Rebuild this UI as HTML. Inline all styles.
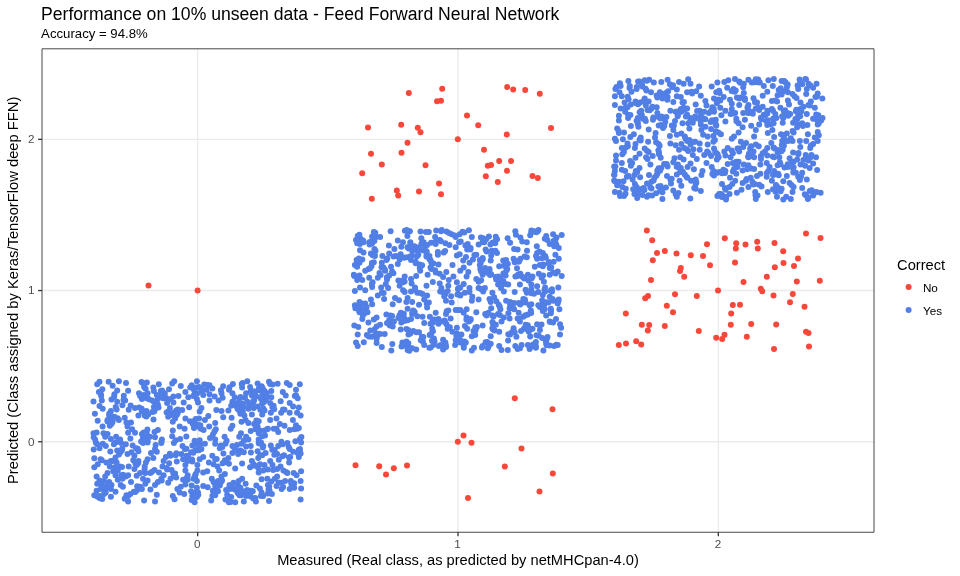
<!DOCTYPE html>
<html lang="en"><head><meta charset="utf-8"><title>Performance on 10% unseen data - Feed Forward Neural Network</title>
<style>
html,body{margin:0;padding:0;background:#fff;}
body{width:960px;height:576px;overflow:hidden;}
svg{display:block;will-change:transform;font-family:"Liberation Sans",Arial,Helvetica,sans-serif;}
</style></head><body>
<svg width="960" height="576" viewBox="0 0 960 576">
<rect width="960" height="576" fill="#fff"/>
<g stroke="#ebebeb" stroke-width="1.42" fill="none">
<line x1="42.00" x2="874.00" y1="441.75" y2="441.75"/>
<line x1="197.65" x2="197.65" y1="48.80" y2="532.25"/>
<line x1="42.00" x2="874.00" y1="290.55" y2="290.55"/>
<line x1="458.00" x2="458.00" y1="48.80" y2="532.25"/>
<line x1="42.00" x2="874.00" y1="139.35" y2="139.35"/>
<line x1="718.35" x2="718.35" y1="48.80" y2="532.25"/>
</g>
<g class="pts-yes" fill="#517fe6"><circle cx="99.5" cy="381.7" r="3.0"/><circle cx="97.2" cy="384.2" r="3.0"/><circle cx="108.6" cy="381.7" r="3.0"/><circle cx="112.6" cy="385.7" r="3.0"/><circle cx="118.9" cy="381.3" r="3.0"/><circle cx="126.0" cy="382.9" r="3.0"/><circle cx="141.5" cy="382.0" r="3.0"/><circle cx="146.8" cy="382.5" r="3.0"/><circle cx="144.1" cy="386.9" r="3.0"/><circle cx="158.8" cy="384.2" r="3.0"/><circle cx="153.3" cy="387.5" r="3.0"/><circle cx="174.2" cy="381.3" r="3.0"/><circle cx="172.2" cy="383.4" r="3.0"/><circle cx="180.8" cy="386.0" r="3.0"/><circle cx="196.9" cy="381.3" r="3.0"/><circle cx="191.7" cy="385.2" r="3.0"/><circle cx="196.3" cy="387.5" r="3.0"/><circle cx="102.3" cy="389.2" r="3.0"/><circle cx="98.9" cy="392.0" r="3.0"/><circle cx="101.2" cy="396.1" r="3.0"/><circle cx="117.2" cy="390.6" r="3.0"/><circle cx="114.4" cy="394.3" r="3.0"/><circle cx="111.5" cy="399.5" r="3.0"/><circle cx="128.1" cy="390.7" r="3.0"/><circle cx="123.8" cy="395.7" r="3.0"/><circle cx="125.2" cy="400.6" r="3.0"/><circle cx="139.0" cy="393.2" r="3.0"/><circle cx="143.6" cy="394.9" r="3.0"/><circle cx="147.6" cy="393.2" r="3.0"/><circle cx="141.9" cy="398.9" r="3.0"/><circle cx="147.6" cy="398.3" r="3.0"/><circle cx="153.9" cy="390.9" r="3.0"/><circle cx="156.8" cy="394.9" r="3.0"/><circle cx="160.8" cy="390.9" r="3.0"/><circle cx="169.0" cy="389.2" r="3.0"/><circle cx="164.8" cy="393.2" r="3.0"/><circle cx="173.4" cy="396.6" r="3.0"/><circle cx="178.5" cy="396.1" r="3.0"/><circle cx="185.4" cy="392.0" r="3.0"/><circle cx="188.3" cy="397.2" r="3.0"/><circle cx="194.6" cy="393.8" r="3.0"/><circle cx="196.9" cy="398.9" r="3.0"/><circle cx="93.5" cy="401.4" r="3.0"/><circle cx="101.8" cy="400.6" r="3.0"/><circle cx="99.5" cy="406.0" r="3.0"/><circle cx="102.7" cy="408.7" r="3.0"/><circle cx="117.2" cy="401.8" r="3.0"/><circle cx="115.7" cy="406.9" r="3.0"/><circle cx="122.4" cy="405.2" r="3.0"/><circle cx="130.6" cy="405.6" r="3.0"/><circle cx="128.7" cy="409.8" r="3.0"/><circle cx="135.0" cy="408.1" r="3.0"/><circle cx="139.2" cy="407.5" r="3.0"/><circle cx="141.9" cy="411.5" r="3.0"/><circle cx="152.2" cy="400.6" r="3.0"/><circle cx="156.8" cy="402.9" r="3.0"/><circle cx="153.9" cy="406.9" r="3.0"/><circle cx="158.5" cy="407.5" r="3.0"/><circle cx="146.4" cy="410.9" r="3.0"/><circle cx="152.2" cy="412.1" r="3.0"/><circle cx="163.1" cy="398.3" r="3.0"/><circle cx="167.1" cy="402.9" r="3.0"/><circle cx="169.9" cy="408.1" r="3.0"/><circle cx="173.4" cy="402.4" r="3.0"/><circle cx="183.7" cy="402.4" r="3.0"/><circle cx="189.1" cy="407.2" r="3.0"/><circle cx="182.2" cy="410.1" r="3.0"/><circle cx="176.2" cy="410.4" r="3.0"/><circle cx="94.9" cy="413.8" r="3.0"/><circle cx="110.9" cy="410.9" r="3.0"/><circle cx="109.2" cy="415.5" r="3.0"/><circle cx="114.4" cy="416.7" r="3.0"/><circle cx="107.5" cy="420.1" r="3.0"/><circle cx="112.6" cy="421.8" r="3.0"/><circle cx="118.9" cy="420.1" r="3.0"/><circle cx="124.7" cy="417.8" r="3.0"/><circle cx="138.4" cy="415.5" r="3.0"/><circle cx="144.7" cy="415.5" r="3.0"/><circle cx="148.2" cy="414.4" r="3.0"/><circle cx="153.5" cy="419.5" r="3.0"/><circle cx="168.2" cy="416.7" r="3.0"/><circle cx="173.4" cy="412.7" r="3.0"/><circle cx="176.8" cy="415.0" r="3.0"/><circle cx="172.8" cy="421.8" r="3.0"/><circle cx="175.1" cy="418.4" r="3.0"/><circle cx="185.4" cy="418.4" r="3.0"/><circle cx="190.0" cy="421.3" r="3.0"/><circle cx="195.7" cy="419.0" r="3.0"/><circle cx="195.1" cy="423.6" r="3.0"/><circle cx="97.7" cy="420.7" r="3.0"/><circle cx="102.6" cy="426.4" r="3.0"/><circle cx="109.8" cy="425.8" r="3.0"/><circle cx="126.4" cy="422.4" r="3.0"/><circle cx="131.0" cy="422.4" r="3.0"/><circle cx="127.5" cy="426.4" r="3.0"/><circle cx="132.1" cy="429.3" r="3.0"/><circle cx="128.1" cy="432.7" r="3.0"/><circle cx="135.0" cy="432.7" r="3.0"/><circle cx="147.4" cy="429.6" r="3.0"/><circle cx="157.9" cy="429.9" r="3.0"/><circle cx="154.5" cy="432.1" r="3.0"/><circle cx="141.9" cy="433.9" r="3.0"/><circle cx="145.3" cy="433.9" r="3.0"/><circle cx="172.8" cy="430.4" r="3.0"/><circle cx="179.7" cy="426.4" r="3.0"/><circle cx="184.6" cy="428.7" r="3.0"/><circle cx="194.0" cy="428.1" r="3.0"/><circle cx="96.6" cy="432.4" r="3.0"/><circle cx="93.5" cy="433.3" r="3.0"/><circle cx="103.5" cy="433.3" r="3.0"/><circle cx="107.5" cy="433.9" r="3.0"/><circle cx="93.7" cy="437.3" r="3.0"/><circle cx="105.2" cy="436.7" r="3.0"/><circle cx="110.9" cy="439.0" r="3.0"/><circle cx="116.1" cy="436.7" r="3.0"/><circle cx="120.1" cy="439.6" r="3.0"/><circle cx="130.4" cy="438.4" r="3.0"/><circle cx="143.0" cy="437.9" r="3.0"/><circle cx="149.9" cy="436.7" r="3.0"/><circle cx="155.0" cy="437.3" r="3.0"/><circle cx="147.6" cy="440.2" r="3.0"/><circle cx="161.9" cy="439.6" r="3.0"/><circle cx="172.2" cy="436.2" r="3.0"/><circle cx="175.7" cy="440.2" r="3.0"/><circle cx="180.2" cy="439.0" r="3.0"/><circle cx="186.3" cy="436.5" r="3.0"/><circle cx="194.6" cy="440.7" r="3.0"/><circle cx="161.3" cy="395.5" r="3.0"/><circle cx="157.9" cy="398.9" r="3.0"/><circle cx="165.9" cy="397.8" r="3.0"/><circle cx="170.5" cy="398.9" r="3.0"/><circle cx="168.2" cy="411.5" r="3.0"/><circle cx="171.6" cy="415.0" r="3.0"/><circle cx="140.1" cy="396.1" r="3.0"/><circle cx="145.3" cy="397.8" r="3.0"/><circle cx="111.5" cy="417.8" r="3.0"/><circle cx="192.8" cy="424.1" r="3.0"/><circle cx="196.9" cy="426.4" r="3.0"/><circle cx="194.0" cy="389.8" r="3.0"/><circle cx="197.4" cy="393.2" r="3.0"/><circle cx="204.3" cy="384.6" r="3.0"/><circle cx="209.5" cy="385.2" r="3.0"/><circle cx="201.4" cy="389.2" r="3.0"/><circle cx="206.6" cy="389.8" r="3.0"/><circle cx="212.3" cy="388.6" r="3.0"/><circle cx="223.2" cy="386.3" r="3.0"/><circle cx="220.9" cy="390.3" r="3.0"/><circle cx="232.9" cy="384.0" r="3.0"/><circle cx="229.5" cy="387.2" r="3.0"/><circle cx="247.3" cy="381.3" r="3.0"/><circle cx="242.7" cy="382.9" r="3.0"/><circle cx="242.1" cy="387.5" r="3.0"/><circle cx="250.1" cy="386.9" r="3.0"/><circle cx="257.6" cy="383.4" r="3.0"/><circle cx="261.6" cy="386.3" r="3.0"/><circle cx="269.0" cy="381.7" r="3.0"/><circle cx="272.5" cy="384.6" r="3.0"/><circle cx="277.6" cy="383.8" r="3.0"/><circle cx="286.8" cy="383.1" r="3.0"/><circle cx="289.7" cy="384.9" r="3.0"/><circle cx="299.8" cy="384.2" r="3.0"/><circle cx="296.0" cy="389.8" r="3.0"/><circle cx="203.2" cy="394.9" r="3.0"/><circle cx="209.5" cy="394.3" r="3.0"/><circle cx="214.6" cy="396.6" r="3.0"/><circle cx="209.5" cy="400.6" r="3.0"/><circle cx="218.6" cy="400.6" r="3.0"/><circle cx="222.6" cy="397.8" r="3.0"/><circle cx="221.5" cy="393.2" r="3.0"/><circle cx="232.4" cy="393.2" r="3.0"/><circle cx="234.7" cy="397.2" r="3.0"/><circle cx="239.8" cy="398.3" r="3.0"/><circle cx="245.0" cy="397.8" r="3.0"/><circle cx="250.7" cy="390.9" r="3.0"/><circle cx="255.3" cy="392.0" r="3.0"/><circle cx="251.9" cy="395.5" r="3.0"/><circle cx="256.4" cy="396.6" r="3.0"/><circle cx="259.9" cy="390.3" r="3.0"/><circle cx="264.5" cy="390.9" r="3.0"/><circle cx="266.8" cy="393.2" r="3.0"/><circle cx="262.2" cy="394.9" r="3.0"/><circle cx="271.3" cy="390.9" r="3.0"/><circle cx="266.8" cy="397.2" r="3.0"/><circle cx="271.3" cy="397.2" r="3.0"/><circle cx="282.8" cy="392.0" r="3.0"/><circle cx="285.7" cy="395.5" r="3.0"/><circle cx="294.8" cy="396.1" r="3.0"/><circle cx="297.7" cy="398.3" r="3.0"/><circle cx="280.7" cy="401.2" r="3.0"/><circle cx="198.0" cy="402.4" r="3.0"/><circle cx="232.4" cy="401.8" r="3.0"/><circle cx="237.5" cy="402.9" r="3.0"/><circle cx="242.1" cy="403.5" r="3.0"/><circle cx="231.2" cy="405.8" r="3.0"/><circle cx="247.3" cy="401.8" r="3.0"/><circle cx="249.6" cy="405.2" r="3.0"/><circle cx="254.1" cy="400.6" r="3.0"/><circle cx="262.2" cy="403.5" r="3.0"/><circle cx="257.6" cy="406.4" r="3.0"/><circle cx="270.2" cy="402.9" r="3.0"/><circle cx="273.6" cy="405.8" r="3.0"/><circle cx="274.2" cy="409.2" r="3.0"/><circle cx="289.7" cy="402.9" r="3.0"/><circle cx="293.1" cy="406.4" r="3.0"/><circle cx="298.8" cy="407.5" r="3.0"/><circle cx="201.4" cy="408.1" r="3.0"/><circle cx="199.7" cy="411.5" r="3.0"/><circle cx="216.3" cy="410.1" r="3.0"/><circle cx="221.5" cy="410.9" r="3.0"/><circle cx="228.4" cy="410.4" r="3.0"/><circle cx="237.5" cy="408.7" r="3.0"/><circle cx="242.7" cy="410.4" r="3.0"/><circle cx="248.4" cy="408.7" r="3.0"/><circle cx="253.6" cy="408.1" r="3.0"/><circle cx="260.4" cy="409.8" r="3.0"/><circle cx="264.5" cy="410.4" r="3.0"/><circle cx="270.8" cy="412.7" r="3.0"/><circle cx="284.5" cy="409.8" r="3.0"/><circle cx="281.1" cy="412.7" r="3.0"/><circle cx="289.7" cy="412.7" r="3.0"/><circle cx="297.1" cy="412.7" r="3.0"/><circle cx="300.6" cy="415.5" r="3.0"/><circle cx="208.3" cy="416.1" r="3.0"/><circle cx="204.9" cy="420.1" r="3.0"/><circle cx="199.1" cy="418.4" r="3.0"/><circle cx="223.2" cy="417.2" r="3.0"/><circle cx="231.6" cy="417.8" r="3.0"/><circle cx="240.4" cy="413.8" r="3.0"/><circle cx="244.4" cy="415.5" r="3.0"/><circle cx="251.9" cy="414.4" r="3.0"/><circle cx="262.2" cy="414.4" r="3.0"/><circle cx="245.6" cy="420.1" r="3.0"/><circle cx="241.5" cy="421.8" r="3.0"/><circle cx="258.7" cy="421.3" r="3.0"/><circle cx="270.2" cy="420.1" r="3.0"/><circle cx="276.5" cy="418.4" r="3.0"/><circle cx="292.9" cy="420.1" r="3.0"/><circle cx="215.2" cy="423.0" r="3.0"/><circle cx="209.2" cy="426.4" r="3.0"/><circle cx="200.3" cy="425.3" r="3.0"/><circle cx="200.9" cy="428.7" r="3.0"/><circle cx="248.4" cy="423.0" r="3.0"/><circle cx="254.1" cy="424.1" r="3.0"/><circle cx="257.6" cy="426.4" r="3.0"/><circle cx="250.7" cy="431.0" r="3.0"/><circle cx="255.3" cy="429.3" r="3.0"/><circle cx="259.9" cy="430.4" r="3.0"/><circle cx="232.4" cy="425.8" r="3.0"/><circle cx="230.7" cy="428.7" r="3.0"/><circle cx="215.8" cy="429.3" r="3.0"/><circle cx="267.9" cy="428.7" r="3.0"/><circle cx="264.5" cy="430.4" r="3.0"/><circle cx="279.9" cy="424.1" r="3.0"/><circle cx="284.5" cy="425.8" r="3.0"/><circle cx="276.5" cy="428.7" r="3.0"/><circle cx="278.2" cy="432.1" r="3.0"/><circle cx="289.7" cy="429.9" r="3.0"/><circle cx="296.0" cy="425.3" r="3.0"/><circle cx="298.8" cy="428.1" r="3.0"/><circle cx="294.2" cy="429.3" r="3.0"/><circle cx="212.9" cy="434.4" r="3.0"/><circle cx="210.0" cy="437.9" r="3.0"/><circle cx="215.2" cy="439.6" r="3.0"/><circle cx="224.6" cy="436.7" r="3.0"/><circle cx="226.6" cy="440.7" r="3.0"/><circle cx="241.0" cy="433.3" r="3.0"/><circle cx="239.2" cy="436.7" r="3.0"/><circle cx="246.1" cy="436.7" r="3.0"/><circle cx="248.4" cy="439.6" r="3.0"/><circle cx="243.8" cy="440.7" r="3.0"/><circle cx="258.7" cy="433.3" r="3.0"/><circle cx="262.2" cy="436.2" r="3.0"/><circle cx="265.0" cy="435.6" r="3.0"/><circle cx="258.7" cy="439.6" r="3.0"/><circle cx="199.7" cy="440.2" r="3.0"/><circle cx="300.0" cy="439.0" r="3.0"/><circle cx="295.4" cy="441.3" r="3.0"/><circle cx="235.8" cy="405.8" r="3.0"/><circle cx="246.1" cy="393.2" r="3.0"/><circle cx="253.0" cy="403.5" r="3.0"/><circle cx="265.6" cy="400.6" r="3.0"/><circle cx="261.0" cy="398.9" r="3.0"/><circle cx="243.8" cy="406.4" r="3.0"/><circle cx="239.2" cy="410.4" r="3.0"/><circle cx="97.2" cy="444.3" r="3.0"/><circle cx="102.9" cy="443.7" r="3.0"/><circle cx="105.8" cy="446.0" r="3.0"/><circle cx="93.7" cy="449.4" r="3.0"/><circle cx="99.5" cy="448.3" r="3.0"/><circle cx="115.5" cy="442.6" r="3.0"/><circle cx="121.2" cy="443.1" r="3.0"/><circle cx="125.8" cy="444.3" r="3.0"/><circle cx="132.7" cy="445.4" r="3.0"/><circle cx="136.1" cy="448.3" r="3.0"/><circle cx="138.4" cy="451.2" r="3.0"/><circle cx="143.0" cy="443.1" r="3.0"/><circle cx="147.6" cy="442.6" r="3.0"/><circle cx="155.6" cy="444.9" r="3.0"/><circle cx="161.3" cy="443.1" r="3.0"/><circle cx="173.9" cy="443.1" r="3.0"/><circle cx="182.5" cy="446.0" r="3.0"/><circle cx="184.8" cy="448.9" r="3.0"/><circle cx="192.3" cy="445.4" r="3.0"/><circle cx="195.7" cy="443.7" r="3.0"/><circle cx="197.4" cy="448.9" r="3.0"/><circle cx="110.3" cy="451.4" r="3.0"/><circle cx="117.2" cy="450.6" r="3.0"/><circle cx="121.8" cy="450.6" r="3.0"/><circle cx="118.9" cy="454.6" r="3.0"/><circle cx="115.5" cy="457.5" r="3.0"/><circle cx="127.5" cy="454.0" r="3.0"/><circle cx="131.5" cy="452.3" r="3.0"/><circle cx="134.4" cy="455.8" r="3.0"/><circle cx="151.0" cy="452.9" r="3.0"/><circle cx="156.8" cy="451.7" r="3.0"/><circle cx="155.0" cy="448.9" r="3.0"/><circle cx="153.3" cy="458.0" r="3.0"/><circle cx="147.6" cy="459.2" r="3.0"/><circle cx="165.9" cy="456.9" r="3.0"/><circle cx="170.5" cy="455.8" r="3.0"/><circle cx="175.7" cy="455.2" r="3.0"/><circle cx="181.4" cy="454.0" r="3.0"/><circle cx="186.5" cy="455.8" r="3.0"/><circle cx="191.1" cy="452.3" r="3.0"/><circle cx="195.1" cy="450.6" r="3.0"/><circle cx="94.3" cy="458.3" r="3.0"/><circle cx="101.8" cy="460.3" r="3.0"/><circle cx="106.3" cy="462.6" r="3.0"/><circle cx="163.6" cy="460.9" r="3.0"/><circle cx="112.6" cy="460.9" r="3.0"/><circle cx="116.6" cy="462.6" r="3.0"/><circle cx="133.3" cy="460.3" r="3.0"/><circle cx="138.4" cy="460.9" r="3.0"/><circle cx="136.7" cy="464.9" r="3.0"/><circle cx="145.9" cy="462.6" r="3.0"/><circle cx="144.7" cy="466.6" r="3.0"/><circle cx="128.7" cy="466.6" r="3.0"/><circle cx="169.1" cy="463.2" r="3.0"/><circle cx="176.8" cy="461.5" r="3.0"/><circle cx="183.1" cy="459.2" r="3.0"/><circle cx="187.7" cy="460.9" r="3.0"/><circle cx="192.3" cy="461.5" r="3.0"/><circle cx="185.4" cy="464.9" r="3.0"/><circle cx="197.4" cy="464.9" r="3.0"/><circle cx="94.3" cy="467.2" r="3.0"/><circle cx="97.7" cy="464.3" r="3.0"/><circle cx="109.8" cy="466.6" r="3.0"/><circle cx="114.9" cy="467.2" r="3.0"/><circle cx="120.1" cy="466.6" r="3.0"/><circle cx="162.5" cy="466.6" r="3.0"/><circle cx="113.2" cy="471.2" r="3.0"/><circle cx="117.8" cy="470.6" r="3.0"/><circle cx="134.4" cy="468.9" r="3.0"/><circle cx="154.5" cy="470.1" r="3.0"/><circle cx="150.4" cy="472.9" r="3.0"/><circle cx="140.1" cy="472.9" r="3.0"/><circle cx="145.3" cy="472.9" r="3.0"/><circle cx="136.7" cy="475.8" r="3.0"/><circle cx="159.0" cy="472.4" r="3.0"/><circle cx="163.6" cy="475.2" r="3.0"/><circle cx="167.1" cy="469.5" r="3.0"/><circle cx="171.6" cy="470.1" r="3.0"/><circle cx="175.1" cy="473.5" r="3.0"/><circle cx="185.4" cy="470.6" r="3.0"/><circle cx="187.7" cy="475.2" r="3.0"/><circle cx="195.7" cy="474.1" r="3.0"/><circle cx="197.4" cy="470.6" r="3.0"/><circle cx="107.5" cy="472.9" r="3.0"/><circle cx="105.2" cy="476.4" r="3.0"/><circle cx="96.6" cy="476.4" r="3.0"/><circle cx="115.5" cy="475.2" r="3.0"/><circle cx="121.2" cy="475.2" r="3.0"/><circle cx="125.8" cy="476.4" r="3.0"/><circle cx="128.1" cy="475.2" r="3.0"/><circle cx="99.5" cy="480.4" r="3.0"/><circle cx="97.2" cy="483.8" r="3.0"/><circle cx="104.0" cy="481.0" r="3.0"/><circle cx="109.2" cy="482.1" r="3.0"/><circle cx="117.8" cy="479.8" r="3.0"/><circle cx="122.4" cy="478.7" r="3.0"/><circle cx="120.7" cy="485.0" r="3.0"/><circle cx="122.9" cy="486.7" r="3.0"/><circle cx="131.0" cy="481.9" r="3.0"/><circle cx="143.0" cy="478.7" r="3.0"/><circle cx="147.6" cy="480.4" r="3.0"/><circle cx="145.3" cy="483.8" r="3.0"/><circle cx="161.3" cy="478.7" r="3.0"/><circle cx="157.9" cy="482.1" r="3.0"/><circle cx="155.0" cy="485.0" r="3.0"/><circle cx="170.5" cy="478.7" r="3.0"/><circle cx="168.2" cy="482.7" r="3.0"/><circle cx="176.2" cy="477.5" r="3.0"/><circle cx="183.1" cy="479.8" r="3.0"/><circle cx="187.7" cy="479.8" r="3.0"/><circle cx="193.4" cy="478.7" r="3.0"/><circle cx="196.9" cy="481.0" r="3.0"/><circle cx="185.4" cy="484.4" r="3.0"/><circle cx="180.8" cy="486.7" r="3.0"/><circle cx="191.7" cy="485.5" r="3.0"/><circle cx="196.9" cy="487.8" r="3.0"/><circle cx="101.8" cy="485.5" r="3.0"/><circle cx="106.9" cy="486.1" r="3.0"/><circle cx="111.5" cy="485.0" r="3.0"/><circle cx="96.6" cy="490.7" r="3.0"/><circle cx="100.6" cy="489.0" r="3.0"/><circle cx="105.2" cy="490.1" r="3.0"/><circle cx="110.9" cy="489.0" r="3.0"/><circle cx="115.5" cy="491.8" r="3.0"/><circle cx="94.3" cy="495.3" r="3.0"/><circle cx="99.5" cy="495.9" r="3.0"/><circle cx="104.0" cy="494.1" r="3.0"/><circle cx="110.9" cy="496.8" r="3.0"/><circle cx="140.1" cy="486.7" r="3.0"/><circle cx="141.9" cy="489.0" r="3.0"/><circle cx="137.3" cy="490.1" r="3.0"/><circle cx="133.8" cy="491.8" r="3.0"/><circle cx="130.4" cy="494.1" r="3.0"/><circle cx="150.4" cy="489.6" r="3.0"/><circle cx="156.8" cy="494.7" r="3.0"/><circle cx="177.4" cy="489.0" r="3.0"/><circle cx="179.7" cy="492.4" r="3.0"/><circle cx="184.2" cy="494.1" r="3.0"/><circle cx="172.8" cy="495.9" r="3.0"/><circle cx="191.1" cy="491.3" r="3.0"/><circle cx="195.7" cy="492.4" r="3.0"/><circle cx="192.3" cy="495.9" r="3.0"/><circle cx="196.9" cy="497.0" r="3.0"/><circle cx="126.4" cy="495.3" r="3.0"/><circle cx="124.7" cy="498.7" r="3.0"/><circle cx="128.1" cy="501.6" r="3.0"/><circle cx="144.1" cy="500.4" r="3.0"/><circle cx="155.0" cy="501.6" r="3.0"/><circle cx="174.5" cy="499.3" r="3.0"/><circle cx="191.7" cy="499.9" r="3.0"/><circle cx="194.6" cy="502.2" r="3.0"/><circle cx="99.5" cy="498.1" r="3.0"/><circle cx="200.3" cy="444.3" r="3.0"/><circle cx="204.9" cy="443.7" r="3.0"/><circle cx="201.4" cy="448.9" r="3.0"/><circle cx="215.2" cy="443.7" r="3.0"/><circle cx="220.9" cy="445.4" r="3.0"/><circle cx="225.5" cy="443.7" r="3.0"/><circle cx="219.8" cy="448.3" r="3.0"/><circle cx="232.4" cy="446.0" r="3.0"/><circle cx="237.0" cy="444.9" r="3.0"/><circle cx="241.5" cy="443.7" r="3.0"/><circle cx="246.1" cy="446.6" r="3.0"/><circle cx="250.7" cy="446.0" r="3.0"/><circle cx="235.8" cy="450.0" r="3.0"/><circle cx="240.4" cy="450.6" r="3.0"/><circle cx="258.7" cy="443.1" r="3.0"/><circle cx="263.3" cy="446.0" r="3.0"/><circle cx="261.0" cy="442.6" r="3.0"/><circle cx="270.8" cy="445.4" r="3.0"/><circle cx="278.2" cy="446.0" r="3.0"/><circle cx="282.8" cy="444.3" r="3.0"/><circle cx="287.4" cy="443.1" r="3.0"/><circle cx="274.8" cy="450.0" r="3.0"/><circle cx="301.1" cy="442.6" r="3.0"/><circle cx="300.0" cy="448.9" r="3.0"/><circle cx="289.7" cy="448.9" r="3.0"/><circle cx="293.1" cy="451.7" r="3.0"/><circle cx="223.4" cy="453.5" r="3.0"/><circle cx="232.4" cy="452.9" r="3.0"/><circle cx="238.1" cy="454.0" r="3.0"/><circle cx="243.8" cy="452.3" r="3.0"/><circle cx="250.9" cy="452.5" r="3.0"/><circle cx="257.6" cy="451.2" r="3.0"/><circle cx="265.6" cy="452.9" r="3.0"/><circle cx="262.2" cy="455.2" r="3.0"/><circle cx="277.1" cy="454.0" r="3.0"/><circle cx="282.4" cy="456.3" r="3.0"/><circle cx="297.7" cy="452.9" r="3.0"/><circle cx="300.6" cy="453.5" r="3.0"/><circle cx="298.8" cy="456.9" r="3.0"/><circle cx="290.2" cy="456.9" r="3.0"/><circle cx="203.2" cy="456.9" r="3.0"/><circle cx="199.7" cy="459.2" r="3.0"/><circle cx="212.3" cy="455.8" r="3.0"/><circle cx="215.2" cy="459.2" r="3.0"/><circle cx="228.4" cy="458.0" r="3.0"/><circle cx="224.9" cy="460.3" r="3.0"/><circle cx="258.2" cy="458.0" r="3.0"/><circle cx="208.9" cy="462.6" r="3.0"/><circle cx="213.5" cy="464.3" r="3.0"/><circle cx="217.5" cy="466.6" r="3.0"/><circle cx="222.6" cy="463.2" r="3.0"/><circle cx="228.9" cy="463.8" r="3.0"/><circle cx="242.1" cy="463.4" r="3.0"/><circle cx="251.9" cy="460.9" r="3.0"/><circle cx="250.1" cy="467.2" r="3.0"/><circle cx="253.6" cy="464.3" r="3.0"/><circle cx="270.2" cy="460.9" r="3.0"/><circle cx="272.5" cy="464.9" r="3.0"/><circle cx="278.8" cy="459.8" r="3.0"/><circle cx="289.1" cy="462.6" r="3.0"/><circle cx="259.9" cy="464.3" r="3.0"/><circle cx="264.5" cy="464.9" r="3.0"/><circle cx="258.2" cy="467.8" r="3.0"/><circle cx="235.2" cy="468.4" r="3.0"/><circle cx="280.5" cy="466.6" r="3.0"/><circle cx="203.2" cy="472.4" r="3.0"/><circle cx="207.2" cy="471.2" r="3.0"/><circle cx="219.2" cy="470.6" r="3.0"/><circle cx="224.9" cy="474.1" r="3.0"/><circle cx="221.5" cy="476.4" r="3.0"/><circle cx="258.7" cy="472.4" r="3.0"/><circle cx="263.3" cy="470.6" r="3.0"/><circle cx="267.9" cy="469.5" r="3.0"/><circle cx="273.1" cy="470.1" r="3.0"/><circle cx="277.1" cy="468.9" r="3.0"/><circle cx="283.4" cy="470.6" r="3.0"/><circle cx="287.4" cy="472.9" r="3.0"/><circle cx="293.7" cy="472.9" r="3.0"/><circle cx="296.5" cy="475.2" r="3.0"/><circle cx="301.1" cy="471.2" r="3.0"/><circle cx="277.1" cy="476.4" r="3.0"/><circle cx="242.1" cy="478.7" r="3.0"/><circle cx="238.7" cy="481.0" r="3.0"/><circle cx="211.8" cy="478.7" r="3.0"/><circle cx="261.6" cy="479.2" r="3.0"/><circle cx="267.3" cy="478.7" r="3.0"/><circle cx="271.3" cy="481.5" r="3.0"/><circle cx="274.8" cy="478.7" r="3.0"/><circle cx="281.1" cy="482.7" r="3.0"/><circle cx="285.1" cy="481.0" r="3.0"/><circle cx="290.8" cy="481.0" r="3.0"/><circle cx="294.2" cy="483.2" r="3.0"/><circle cx="300.6" cy="481.0" r="3.0"/><circle cx="245.6" cy="483.8" r="3.0"/><circle cx="233.5" cy="482.7" r="3.0"/><circle cx="229.5" cy="485.0" r="3.0"/><circle cx="213.5" cy="482.1" r="3.0"/><circle cx="218.1" cy="481.0" r="3.0"/><circle cx="222.1" cy="480.4" r="3.0"/><circle cx="203.2" cy="486.1" r="3.0"/><circle cx="207.7" cy="487.3" r="3.0"/><circle cx="215.2" cy="486.1" r="3.0"/><circle cx="219.8" cy="485.5" r="3.0"/><circle cx="256.4" cy="485.5" r="3.0"/><circle cx="259.9" cy="488.4" r="3.0"/><circle cx="267.9" cy="485.0" r="3.0"/><circle cx="276.5" cy="486.1" r="3.0"/><circle cx="238.1" cy="485.5" r="3.0"/><circle cx="240.4" cy="487.8" r="3.0"/><circle cx="212.9" cy="490.7" r="3.0"/><circle cx="216.9" cy="490.1" r="3.0"/><circle cx="226.1" cy="490.1" r="3.0"/><circle cx="230.1" cy="489.0" r="3.0"/><circle cx="234.7" cy="489.6" r="3.0"/><circle cx="237.5" cy="492.4" r="3.0"/><circle cx="243.3" cy="491.3" r="3.0"/><circle cx="247.3" cy="490.1" r="3.0"/><circle cx="251.3" cy="490.7" r="3.0"/><circle cx="261.6" cy="492.4" r="3.0"/><circle cx="268.5" cy="489.6" r="3.0"/><circle cx="267.9" cy="493.6" r="3.0"/><circle cx="271.9" cy="494.1" r="3.0"/><circle cx="281.6" cy="489.0" r="3.0"/><circle cx="289.7" cy="489.0" r="3.0"/><circle cx="294.2" cy="487.8" r="3.0"/><circle cx="301.1" cy="488.4" r="3.0"/><circle cx="215.2" cy="495.3" r="3.0"/><circle cx="227.2" cy="494.7" r="3.0"/><circle cx="231.2" cy="497.0" r="3.0"/><circle cx="241.0" cy="495.3" r="3.0"/><circle cx="246.1" cy="495.9" r="3.0"/><circle cx="250.7" cy="496.4" r="3.0"/><circle cx="255.3" cy="498.1" r="3.0"/><circle cx="261.0" cy="495.9" r="3.0"/><circle cx="211.2" cy="500.4" r="3.0"/><circle cx="228.4" cy="500.4" r="3.0"/><circle cx="228.9" cy="502.2" r="3.0"/><circle cx="235.2" cy="502.2" r="3.0"/><circle cx="243.8" cy="501.6" r="3.0"/><circle cx="255.9" cy="501.6" r="3.0"/><circle cx="269.0" cy="501.0" r="3.0"/><circle cx="300.6" cy="499.5" r="3.0"/><circle cx="198.0" cy="492.4" r="3.0"/><circle cx="100.6" cy="459.2" r="3.0"/><circle cx="173.9" cy="476.1" r="3.0"/><circle cx="269.2" cy="486.5" r="3.0"/><circle cx="135.4" cy="463.6" r="3.0"/><circle cx="198.3" cy="494.8" r="3.0"/><circle cx="166.8" cy="467.9" r="3.0"/><circle cx="109.3" cy="487.3" r="3.0"/><circle cx="193.2" cy="387.9" r="3.0"/><circle cx="110.0" cy="418.0" r="3.0"/><circle cx="252.8" cy="491.2" r="3.0"/><circle cx="173.3" cy="473.4" r="3.0"/><circle cx="192.1" cy="459.5" r="3.0"/><circle cx="198.9" cy="450.2" r="3.0"/><circle cx="194.6" cy="497.1" r="3.0"/><circle cx="232.8" cy="487.7" r="3.0"/><circle cx="194.4" cy="425.7" r="3.0"/><circle cx="117.6" cy="418.2" r="3.0"/><circle cx="188.1" cy="456.5" r="3.0"/><circle cx="242.6" cy="412.5" r="3.0"/><circle cx="105.3" cy="434.2" r="3.0"/><circle cx="107.5" cy="421.6" r="3.0"/><circle cx="108.7" cy="484.3" r="3.0"/><circle cx="216.7" cy="458.9" r="3.0"/><circle cx="222.3" cy="447.1" r="3.0"/><circle cx="193.3" cy="396.0" r="3.0"/><circle cx="137.2" cy="486.3" r="3.0"/><circle cx="118.8" cy="441.6" r="3.0"/><circle cx="253.3" cy="498.5" r="3.0"/><circle cx="262.8" cy="447.4" r="3.0"/><circle cx="286.1" cy="472.1" r="3.0"/><circle cx="128.1" cy="496.1" r="3.0"/><circle cx="241.4" cy="451.7" r="3.0"/><circle cx="148.0" cy="437.3" r="3.0"/><circle cx="102.2" cy="498.9" r="3.0"/><circle cx="101.0" cy="394.5" r="3.0"/><circle cx="123.1" cy="474.8" r="3.0"/><circle cx="154.0" cy="401.7" r="3.0"/><circle cx="141.7" cy="408.8" r="3.0"/><circle cx="162.1" cy="390.4" r="3.0"/><circle cx="239.5" cy="495.3" r="3.0"/><circle cx="258.8" cy="388.6" r="3.0"/><circle cx="135.3" cy="492.0" r="3.0"/><circle cx="148.9" cy="399.2" r="3.0"/><circle cx="138.3" cy="463.0" r="3.0"/><circle cx="214.4" cy="431.8" r="3.0"/><circle cx="169.8" cy="453.7" r="3.0"/><circle cx="97.3" cy="496.4" r="3.0"/><circle cx="207.3" cy="384.9" r="3.0"/><circle cx="195.1" cy="475.5" r="3.0"/><circle cx="253.6" cy="391.3" r="3.0"/><circle cx="234.4" cy="447.7" r="3.0"/><circle cx="263.3" cy="408.5" r="3.0"/><circle cx="152.0" cy="471.7" r="3.0"/><circle cx="145.6" cy="388.7" r="3.0"/><circle cx="272.2" cy="449.7" r="3.0"/><circle cx="109.3" cy="413.4" r="3.0"/><circle cx="110.8" cy="460.9" r="3.0"/><circle cx="259.5" cy="443.6" r="3.0"/><circle cx="272.4" cy="407.2" r="3.0"/><circle cx="161.4" cy="441.4" r="3.0"/><circle cx="161.7" cy="480.4" r="3.0"/><circle cx="177.8" cy="409.5" r="3.0"/><circle cx="254.9" cy="465.8" r="3.0"/><circle cx="296.0" cy="395.2" r="3.0"/><circle cx="203.6" cy="429.9" r="3.0"/><circle cx="240.5" cy="396.9" r="3.0"/><circle cx="212.4" cy="495.8" r="3.0"/><circle cx="249.4" cy="406.9" r="3.0"/><circle cx="278.6" cy="482.4" r="3.0"/><circle cx="157.9" cy="404.8" r="3.0"/><circle cx="186.3" cy="478.5" r="3.0"/><circle cx="177.7" cy="413.3" r="3.0"/><circle cx="141.1" cy="441.6" r="3.0"/><circle cx="224.5" cy="462.3" r="3.0"/><circle cx="252.2" cy="406.2" r="3.0"/><circle cx="95.9" cy="442.7" r="3.0"/><circle cx="154.9" cy="409.4" r="3.0"/><circle cx="114.1" cy="397.0" r="3.0"/><circle cx="298.6" cy="450.0" r="3.0"/><circle cx="142.7" cy="383.0" r="3.0"/><circle cx="270.1" cy="384.1" r="3.0"/><circle cx="241.7" cy="384.0" r="3.0"/><circle cx="116.6" cy="409.5" r="3.0"/><circle cx="144.6" cy="469.2" r="3.0"/><circle cx="253.1" cy="401.2" r="3.0"/><circle cx="137.8" cy="448.7" r="3.0"/><circle cx="122.2" cy="448.4" r="3.0"/><circle cx="154.2" cy="411.4" r="3.0"/><circle cx="195.1" cy="478.6" r="3.0"/><circle cx="283.1" cy="486.9" r="3.0"/><circle cx="201.8" cy="391.2" r="3.0"/><circle cx="263.7" cy="402.2" r="3.0"/><circle cx="297.2" cy="428.7" r="3.0"/><circle cx="110.3" cy="414.6" r="3.0"/><circle cx="256.4" cy="420.5" r="3.0"/><circle cx="273.8" cy="428.7" r="3.0"/><circle cx="221.0" cy="482.0" r="3.0"/><circle cx="186.4" cy="448.7" r="3.0"/><circle cx="111.6" cy="423.8" r="3.0"/><circle cx="146.7" cy="433.1" r="3.0"/><circle cx="262.3" cy="396.9" r="3.0"/><circle cx="146.3" cy="416.5" r="3.0"/><circle cx="199.1" cy="387.0" r="3.0"/><circle cx="229.3" cy="487.5" r="3.0"/><circle cx="263.2" cy="496.1" r="3.0"/><circle cx="122.0" cy="467.1" r="3.0"/><circle cx="166.6" cy="412.4" r="3.0"/><circle cx="230.5" cy="501.9" r="3.0"/><circle cx="198.3" cy="424.9" r="3.0"/><circle cx="193.3" cy="452.8" r="3.0"/><circle cx="249.6" cy="493.8" r="3.0"/><circle cx="291.3" cy="483.8" r="3.0"/><circle cx="143.7" cy="432.6" r="3.0"/><circle cx="288.7" cy="447.0" r="3.0"/><circle cx="240.9" cy="408.8" r="3.0"/><circle cx="194.2" cy="421.1" r="3.0"/><circle cx="238.3" cy="488.7" r="3.0"/><circle cx="120.1" cy="452.6" r="3.0"/><circle cx="262.7" cy="388.2" r="3.0"/><circle cx="284.0" cy="455.3" r="3.0"/><circle cx="281.4" cy="441.7" r="3.0"/><circle cx="105.7" cy="492.4" r="3.0"/><circle cx="246.7" cy="491.7" r="3.0"/><circle cx="123.5" cy="400.1" r="3.0"/><circle cx="260.1" cy="455.2" r="3.0"/><circle cx="269.5" cy="490.5" r="3.0"/><circle cx="113.9" cy="444.2" r="3.0"/><circle cx="109.7" cy="486.9" r="3.0"/><circle cx="225.5" cy="499.6" r="3.0"/><circle cx="218.0" cy="491.2" r="3.0"/><circle cx="95.2" cy="439.8" r="3.0"/><circle cx="274.3" cy="454.8" r="3.0"/><circle cx="176.3" cy="453.2" r="3.0"/><circle cx="237.6" cy="405.1" r="3.0"/><circle cx="190.2" cy="387.6" r="3.0"/><circle cx="267.1" cy="429.3" r="3.0"/><circle cx="283.0" cy="409.6" r="3.0"/><circle cx="289.0" cy="457.6" r="3.0"/><circle cx="299.8" cy="451.4" r="3.0"/><circle cx="164.5" cy="398.1" r="3.0"/><circle cx="238.3" cy="493.6" r="3.0"/><circle cx="229.0" cy="389.7" r="3.0"/><circle cx="264.5" cy="393.1" r="3.0"/><circle cx="217.4" cy="485.5" r="3.0"/><circle cx="301.4" cy="437.1" r="3.0"/><circle cx="235.3" cy="403.3" r="3.0"/><circle cx="357.7" cy="235.9" r="3.0"/><circle cx="356.0" cy="239.9" r="3.0"/><circle cx="357.2" cy="243.3" r="3.0"/><circle cx="360.6" cy="238.8" r="3.0"/><circle cx="363.5" cy="242.2" r="3.0"/><circle cx="373.8" cy="231.9" r="3.0"/><circle cx="372.1" cy="236.5" r="3.0"/><circle cx="376.1" cy="237.0" r="3.0"/><circle cx="380.1" cy="237.0" r="3.0"/><circle cx="374.4" cy="241.0" r="3.0"/><circle cx="369.2" cy="242.2" r="3.0"/><circle cx="372.1" cy="243.3" r="3.0"/><circle cx="390.6" cy="231.3" r="3.0"/><circle cx="404.9" cy="230.7" r="3.0"/><circle cx="409.9" cy="231.3" r="3.0"/><circle cx="407.4" cy="235.9" r="3.0"/><circle cx="420.5" cy="231.6" r="3.0"/><circle cx="425.9" cy="232.1" r="3.0"/><circle cx="428.8" cy="231.9" r="3.0"/><circle cx="436.2" cy="230.5" r="3.0"/><circle cx="441.7" cy="230.1" r="3.0"/><circle cx="446.5" cy="231.6" r="3.0"/><circle cx="451.7" cy="234.2" r="3.0"/><circle cx="455.7" cy="237.0" r="3.0"/><circle cx="435.1" cy="237.0" r="3.0"/><circle cx="439.7" cy="239.9" r="3.0"/><circle cx="421.3" cy="238.2" r="3.0"/><circle cx="423.6" cy="242.2" r="3.0"/><circle cx="427.1" cy="245.1" r="3.0"/><circle cx="431.1" cy="242.8" r="3.0"/><circle cx="435.7" cy="243.9" r="3.0"/><circle cx="445.4" cy="243.3" r="3.0"/><circle cx="449.4" cy="245.1" r="3.0"/><circle cx="455.7" cy="247.3" r="3.0"/><circle cx="397.8" cy="240.5" r="3.0"/><circle cx="403.0" cy="242.2" r="3.0"/><circle cx="388.9" cy="245.6" r="3.0"/><circle cx="401.3" cy="246.8" r="3.0"/><circle cx="394.4" cy="249.1" r="3.0"/><circle cx="410.4" cy="243.9" r="3.0"/><circle cx="414.5" cy="246.2" r="3.0"/><circle cx="408.7" cy="248.5" r="3.0"/><circle cx="419.0" cy="247.3" r="3.0"/><circle cx="412.2" cy="250.8" r="3.0"/><circle cx="416.8" cy="250.8" r="3.0"/><circle cx="422.5" cy="250.2" r="3.0"/><circle cx="360.0" cy="250.2" r="3.0"/><circle cx="363.5" cy="252.5" r="3.0"/><circle cx="375.5" cy="250.8" r="3.0"/><circle cx="370.9" cy="253.6" r="3.0"/><circle cx="374.9" cy="255.9" r="3.0"/><circle cx="382.4" cy="255.9" r="3.0"/><circle cx="389.2" cy="253.6" r="3.0"/><circle cx="396.1" cy="255.9" r="3.0"/><circle cx="400.7" cy="254.2" r="3.0"/><circle cx="404.1" cy="257.7" r="3.0"/><circle cx="399.6" cy="259.4" r="3.0"/><circle cx="397.8" cy="264.0" r="3.0"/><circle cx="412.2" cy="255.4" r="3.0"/><circle cx="416.8" cy="256.5" r="3.0"/><circle cx="411.0" cy="259.9" r="3.0"/><circle cx="415.6" cy="261.7" r="3.0"/><circle cx="419.6" cy="264.5" r="3.0"/><circle cx="426.5" cy="253.6" r="3.0"/><circle cx="429.4" cy="255.9" r="3.0"/><circle cx="430.5" cy="259.9" r="3.0"/><circle cx="437.9" cy="251.9" r="3.0"/><circle cx="443.7" cy="252.5" r="3.0"/><circle cx="437.9" cy="254.8" r="3.0"/><circle cx="456.9" cy="255.4" r="3.0"/><circle cx="356.6" cy="259.9" r="3.0"/><circle cx="362.3" cy="259.4" r="3.0"/><circle cx="359.5" cy="262.8" r="3.0"/><circle cx="354.9" cy="265.1" r="3.0"/><circle cx="373.8" cy="262.2" r="3.0"/><circle cx="371.5" cy="266.2" r="3.0"/><circle cx="368.6" cy="269.1" r="3.0"/><circle cx="365.2" cy="270.8" r="3.0"/><circle cx="381.8" cy="262.8" r="3.0"/><circle cx="386.4" cy="259.9" r="3.0"/><circle cx="383.5" cy="267.4" r="3.0"/><circle cx="391.0" cy="266.8" r="3.0"/><circle cx="392.1" cy="271.4" r="3.0"/><circle cx="389.2" cy="275.4" r="3.0"/><circle cx="385.2" cy="270.8" r="3.0"/><circle cx="379.5" cy="273.1" r="3.0"/><circle cx="377.8" cy="277.7" r="3.0"/><circle cx="421.3" cy="265.7" r="3.0"/><circle cx="433.4" cy="263.4" r="3.0"/><circle cx="438.5" cy="264.5" r="3.0"/><circle cx="430.5" cy="267.4" r="3.0"/><circle cx="435.1" cy="270.3" r="3.0"/><circle cx="452.5" cy="265.1" r="3.0"/><circle cx="446.3" cy="272.0" r="3.0"/><circle cx="420.2" cy="270.8" r="3.0"/><circle cx="416.2" cy="276.0" r="3.0"/><circle cx="427.6" cy="274.8" r="3.0"/><circle cx="439.7" cy="273.7" r="3.0"/><circle cx="443.1" cy="277.1" r="3.0"/><circle cx="354.3" cy="276.0" r="3.0"/><circle cx="359.5" cy="275.4" r="3.0"/><circle cx="357.2" cy="280.0" r="3.0"/><circle cx="362.3" cy="280.0" r="3.0"/><circle cx="369.2" cy="277.7" r="3.0"/><circle cx="372.6" cy="282.3" r="3.0"/><circle cx="372.1" cy="286.9" r="3.0"/><circle cx="360.0" cy="287.4" r="3.0"/><circle cx="387.0" cy="279.4" r="3.0"/><circle cx="385.8" cy="284.0" r="3.0"/><circle cx="404.7" cy="276.6" r="3.0"/><circle cx="398.4" cy="280.6" r="3.0"/><circle cx="403.0" cy="282.3" r="3.0"/><circle cx="399.6" cy="285.7" r="3.0"/><circle cx="411.0" cy="278.9" r="3.0"/><circle cx="411.6" cy="283.4" r="3.0"/><circle cx="415.0" cy="287.4" r="3.0"/><circle cx="432.8" cy="282.1" r="3.0"/><circle cx="426.5" cy="285.7" r="3.0"/><circle cx="439.7" cy="283.4" r="3.0"/><circle cx="441.4" cy="288.0" r="3.0"/><circle cx="448.8" cy="280.0" r="3.0"/><circle cx="453.4" cy="276.6" r="3.0"/><circle cx="456.9" cy="282.3" r="3.0"/><circle cx="448.3" cy="285.7" r="3.0"/><circle cx="381.2" cy="287.4" r="3.0"/><circle cx="388.1" cy="288.0" r="3.0"/><circle cx="365.2" cy="290.3" r="3.0"/><circle cx="354.9" cy="290.9" r="3.0"/><circle cx="458.0" cy="289.2" r="3.0"/><circle cx="468.9" cy="230.2" r="3.0"/><circle cx="464.3" cy="232.4" r="3.0"/><circle cx="459.7" cy="234.2" r="3.0"/><circle cx="471.8" cy="237.0" r="3.0"/><circle cx="480.9" cy="237.6" r="3.0"/><circle cx="486.1" cy="239.3" r="3.0"/><circle cx="488.9" cy="236.5" r="3.0"/><circle cx="482.6" cy="242.2" r="3.0"/><circle cx="478.6" cy="244.5" r="3.0"/><circle cx="497.0" cy="239.3" r="3.0"/><circle cx="492.4" cy="242.8" r="3.0"/><circle cx="495.2" cy="243.3" r="3.0"/><circle cx="459.1" cy="242.2" r="3.0"/><circle cx="467.7" cy="243.9" r="3.0"/><circle cx="470.6" cy="247.9" r="3.0"/><circle cx="467.2" cy="249.6" r="3.0"/><circle cx="507.6" cy="238.2" r="3.0"/><circle cx="510.1" cy="242.8" r="3.0"/><circle cx="515.3" cy="231.3" r="3.0"/><circle cx="515.9" cy="234.7" r="3.0"/><circle cx="520.4" cy="237.6" r="3.0"/><circle cx="522.2" cy="241.6" r="3.0"/><circle cx="526.8" cy="242.2" r="3.0"/><circle cx="531.3" cy="232.4" r="3.0"/><circle cx="530.2" cy="235.3" r="3.0"/><circle cx="537.6" cy="231.3" r="3.0"/><circle cx="534.2" cy="231.3" r="3.0"/><circle cx="546.2" cy="235.9" r="3.0"/><circle cx="547.4" cy="239.9" r="3.0"/><circle cx="549.7" cy="243.9" r="3.0"/><circle cx="553.1" cy="234.2" r="3.0"/><circle cx="556.5" cy="237.6" r="3.0"/><circle cx="561.7" cy="235.1" r="3.0"/><circle cx="555.4" cy="239.9" r="3.0"/><circle cx="554.2" cy="246.2" r="3.0"/><circle cx="558.8" cy="247.9" r="3.0"/><circle cx="536.8" cy="246.2" r="3.0"/><circle cx="514.1" cy="249.1" r="3.0"/><circle cx="517.6" cy="249.6" r="3.0"/><circle cx="527.0" cy="250.8" r="3.0"/><circle cx="486.6" cy="251.4" r="3.0"/><circle cx="491.8" cy="250.8" r="3.0"/><circle cx="497.0" cy="253.1" r="3.0"/><circle cx="491.2" cy="255.4" r="3.0"/><circle cx="490.7" cy="260.5" r="3.0"/><circle cx="459.7" cy="254.2" r="3.0"/><circle cx="476.3" cy="254.8" r="3.0"/><circle cx="472.9" cy="259.4" r="3.0"/><circle cx="479.8" cy="259.9" r="3.0"/><circle cx="482.6" cy="259.4" r="3.0"/><circle cx="466.0" cy="257.1" r="3.0"/><circle cx="463.2" cy="260.5" r="3.0"/><circle cx="469.5" cy="262.8" r="3.0"/><circle cx="537.1" cy="253.1" r="3.0"/><circle cx="542.8" cy="253.1" r="3.0"/><circle cx="545.1" cy="255.9" r="3.0"/><circle cx="537.1" cy="258.8" r="3.0"/><circle cx="541.6" cy="258.2" r="3.0"/><circle cx="555.4" cy="254.8" r="3.0"/><circle cx="558.8" cy="258.8" r="3.0"/><circle cx="553.7" cy="261.7" r="3.0"/><circle cx="524.5" cy="256.5" r="3.0"/><circle cx="520.4" cy="258.8" r="3.0"/><circle cx="513.6" cy="258.8" r="3.0"/><circle cx="514.7" cy="262.2" r="3.0"/><circle cx="518.7" cy="261.7" r="3.0"/><circle cx="506.1" cy="259.9" r="3.0"/><circle cx="507.8" cy="264.0" r="3.0"/><circle cx="499.2" cy="266.2" r="3.0"/><circle cx="503.8" cy="265.7" r="3.0"/><circle cx="507.3" cy="269.1" r="3.0"/><circle cx="517.0" cy="268.3" r="3.0"/><circle cx="534.8" cy="266.8" r="3.0"/><circle cx="539.9" cy="265.1" r="3.0"/><circle cx="542.8" cy="266.2" r="3.0"/><circle cx="548.5" cy="263.4" r="3.0"/><circle cx="549.7" cy="268.0" r="3.0"/><circle cx="463.7" cy="267.4" r="3.0"/><circle cx="468.3" cy="272.0" r="3.0"/><circle cx="460.3" cy="270.8" r="3.0"/><circle cx="479.8" cy="265.1" r="3.0"/><circle cx="480.3" cy="269.1" r="3.0"/><circle cx="484.4" cy="270.8" r="3.0"/><circle cx="489.5" cy="269.1" r="3.0"/><circle cx="487.8" cy="273.1" r="3.0"/><circle cx="482.6" cy="274.8" r="3.0"/><circle cx="491.2" cy="274.3" r="3.0"/><circle cx="476.3" cy="278.9" r="3.0"/><circle cx="478.6" cy="281.7" r="3.0"/><circle cx="466.6" cy="276.6" r="3.0"/><circle cx="495.8" cy="277.1" r="3.0"/><circle cx="500.4" cy="277.7" r="3.0"/><circle cx="505.6" cy="275.4" r="3.0"/><circle cx="503.3" cy="281.1" r="3.0"/><circle cx="498.1" cy="284.6" r="3.0"/><circle cx="505.6" cy="284.0" r="3.0"/><circle cx="517.6" cy="276.0" r="3.0"/><circle cx="520.4" cy="273.7" r="3.0"/><circle cx="522.7" cy="277.1" r="3.0"/><circle cx="519.9" cy="284.4" r="3.0"/><circle cx="527.9" cy="274.8" r="3.0"/><circle cx="532.5" cy="276.6" r="3.0"/><circle cx="528.5" cy="280.6" r="3.0"/><circle cx="531.3" cy="284.6" r="3.0"/><circle cx="538.8" cy="273.7" r="3.0"/><circle cx="541.6" cy="277.7" r="3.0"/><circle cx="543.9" cy="281.7" r="3.0"/><circle cx="537.1" cy="286.3" r="3.0"/><circle cx="549.7" cy="274.8" r="3.0"/><circle cx="553.1" cy="272.6" r="3.0"/><circle cx="557.7" cy="271.4" r="3.0"/><circle cx="561.7" cy="276.0" r="3.0"/><circle cx="463.7" cy="284.0" r="3.0"/><circle cx="460.3" cy="287.4" r="3.0"/><circle cx="469.5" cy="288.0" r="3.0"/><circle cx="478.6" cy="288.0" r="3.0"/><circle cx="484.9" cy="288.0" r="3.0"/><circle cx="501.0" cy="288.0" r="3.0"/><circle cx="525.6" cy="289.7" r="3.0"/><circle cx="531.3" cy="289.2" r="3.0"/><circle cx="545.1" cy="287.4" r="3.0"/><circle cx="552.0" cy="289.2" r="3.0"/><circle cx="558.3" cy="287.4" r="3.0"/><circle cx="377.8" cy="295.6" r="3.0"/><circle cx="381.8" cy="292.7" r="3.0"/><circle cx="384.1" cy="299.0" r="3.0"/><circle cx="370.9" cy="299.6" r="3.0"/><circle cx="372.1" cy="304.2" r="3.0"/><circle cx="395.0" cy="297.9" r="3.0"/><circle cx="399.0" cy="300.2" r="3.0"/><circle cx="392.7" cy="304.2" r="3.0"/><circle cx="404.7" cy="292.1" r="3.0"/><circle cx="411.0" cy="291.6" r="3.0"/><circle cx="407.6" cy="297.9" r="3.0"/><circle cx="406.4" cy="301.9" r="3.0"/><circle cx="412.2" cy="301.9" r="3.0"/><circle cx="417.3" cy="292.7" r="3.0"/><circle cx="422.5" cy="293.9" r="3.0"/><circle cx="427.1" cy="295.6" r="3.0"/><circle cx="424.2" cy="299.6" r="3.0"/><circle cx="428.8" cy="302.5" r="3.0"/><circle cx="427.1" cy="307.6" r="3.0"/><circle cx="419.0" cy="304.8" r="3.0"/><circle cx="440.2" cy="291.6" r="3.0"/><circle cx="447.7" cy="291.0" r="3.0"/><circle cx="444.2" cy="296.2" r="3.0"/><circle cx="451.1" cy="296.2" r="3.0"/><circle cx="446.0" cy="300.7" r="3.0"/><circle cx="451.7" cy="302.5" r="3.0"/><circle cx="457.4" cy="294.4" r="3.0"/><circle cx="359.5" cy="301.9" r="3.0"/><circle cx="354.9" cy="305.3" r="3.0"/><circle cx="355.4" cy="308.2" r="3.0"/><circle cx="365.2" cy="303.6" r="3.0"/><circle cx="360.6" cy="308.2" r="3.0"/><circle cx="365.8" cy="308.2" r="3.0"/><circle cx="359.5" cy="312.2" r="3.0"/><circle cx="364.6" cy="313.3" r="3.0"/><circle cx="367.5" cy="312.2" r="3.0"/><circle cx="362.3" cy="319.1" r="3.0"/><circle cx="362.9" cy="315.6" r="3.0"/><circle cx="455.7" cy="309.9" r="3.0"/><circle cx="407.6" cy="308.8" r="3.0"/><circle cx="413.3" cy="310.5" r="3.0"/><circle cx="412.2" cy="313.9" r="3.0"/><circle cx="417.3" cy="316.2" r="3.0"/><circle cx="422.5" cy="316.8" r="3.0"/><circle cx="400.9" cy="312.8" r="3.0"/><circle cx="398.4" cy="317.9" r="3.0"/><circle cx="404.1" cy="317.9" r="3.0"/><circle cx="401.3" cy="322.5" r="3.0"/><circle cx="407.6" cy="320.2" r="3.0"/><circle cx="411.0" cy="319.1" r="3.0"/><circle cx="386.4" cy="314.5" r="3.0"/><circle cx="390.4" cy="315.6" r="3.0"/><circle cx="389.2" cy="320.2" r="3.0"/><circle cx="387.0" cy="323.1" r="3.0"/><circle cx="392.1" cy="323.1" r="3.0"/><circle cx="392.7" cy="326.5" r="3.0"/><circle cx="389.8" cy="325.4" r="3.0"/><circle cx="376.6" cy="317.4" r="3.0"/><circle cx="373.8" cy="319.6" r="3.0"/><circle cx="368.4" cy="322.5" r="3.0"/><circle cx="435.7" cy="312.8" r="3.0"/><circle cx="429.9" cy="316.8" r="3.0"/><circle cx="432.8" cy="320.2" r="3.0"/><circle cx="438.5" cy="319.1" r="3.0"/><circle cx="430.5" cy="323.7" r="3.0"/><circle cx="448.3" cy="310.5" r="3.0"/><circle cx="446.0" cy="313.9" r="3.0"/><circle cx="450.6" cy="318.5" r="3.0"/><circle cx="443.1" cy="321.4" r="3.0"/><circle cx="438.5" cy="323.7" r="3.0"/><circle cx="446.5" cy="324.2" r="3.0"/><circle cx="424.2" cy="323.1" r="3.0"/><circle cx="354.3" cy="325.4" r="3.0"/><circle cx="358.3" cy="327.1" r="3.0"/><circle cx="380.1" cy="324.8" r="3.0"/><circle cx="376.6" cy="326.5" r="3.0"/><circle cx="374.4" cy="329.4" r="3.0"/><circle cx="400.7" cy="329.4" r="3.0"/><circle cx="408.2" cy="330.0" r="3.0"/><circle cx="413.3" cy="331.1" r="3.0"/><circle cx="410.4" cy="333.4" r="3.0"/><circle cx="419.0" cy="332.2" r="3.0"/><circle cx="421.9" cy="336.8" r="3.0"/><circle cx="420.8" cy="340.3" r="3.0"/><circle cx="432.2" cy="328.8" r="3.0"/><circle cx="431.1" cy="334.0" r="3.0"/><circle cx="433.9" cy="338.6" r="3.0"/><circle cx="447.7" cy="328.8" r="3.0"/><circle cx="452.3" cy="331.7" r="3.0"/><circle cx="456.9" cy="327.7" r="3.0"/><circle cx="456.9" cy="333.4" r="3.0"/><circle cx="357.7" cy="334.5" r="3.0"/><circle cx="370.3" cy="330.5" r="3.0"/><circle cx="366.9" cy="335.1" r="3.0"/><circle cx="371.5" cy="336.8" r="3.0"/><circle cx="375.5" cy="334.0" r="3.0"/><circle cx="380.1" cy="334.0" r="3.0"/><circle cx="384.7" cy="334.0" r="3.0"/><circle cx="376.6" cy="339.1" r="3.0"/><circle cx="376.6" cy="343.1" r="3.0"/><circle cx="356.0" cy="342.6" r="3.0"/><circle cx="357.7" cy="346.0" r="3.0"/><circle cx="363.8" cy="342.2" r="3.0"/><circle cx="381.8" cy="347.1" r="3.0"/><circle cx="392.3" cy="343.9" r="3.0"/><circle cx="391.3" cy="350.4" r="3.0"/><circle cx="402.4" cy="342.6" r="3.0"/><circle cx="406.4" cy="341.4" r="3.0"/><circle cx="403.0" cy="346.0" r="3.0"/><circle cx="407.6" cy="346.0" r="3.0"/><circle cx="407.6" cy="350.0" r="3.0"/><circle cx="412.2" cy="348.3" r="3.0"/><circle cx="416.2" cy="349.4" r="3.0"/><circle cx="424.2" cy="344.9" r="3.0"/><circle cx="429.4" cy="347.7" r="3.0"/><circle cx="433.4" cy="344.9" r="3.0"/><circle cx="434.5" cy="341.4" r="3.0"/><circle cx="443.1" cy="339.7" r="3.0"/><circle cx="445.4" cy="342.6" r="3.0"/><circle cx="440.8" cy="344.9" r="3.0"/><circle cx="446.0" cy="347.1" r="3.0"/><circle cx="443.1" cy="349.4" r="3.0"/><circle cx="455.7" cy="340.3" r="3.0"/><circle cx="455.1" cy="344.9" r="3.0"/><circle cx="458.0" cy="336.8" r="3.0"/><circle cx="460.3" cy="295.6" r="3.0"/><circle cx="464.9" cy="292.7" r="3.0"/><circle cx="469.5" cy="292.1" r="3.0"/><circle cx="472.3" cy="296.7" r="3.0"/><circle cx="471.8" cy="300.7" r="3.0"/><circle cx="478.6" cy="299.6" r="3.0"/><circle cx="483.2" cy="291.6" r="3.0"/><circle cx="492.4" cy="292.7" r="3.0"/><circle cx="489.5" cy="299.0" r="3.0"/><circle cx="494.1" cy="297.3" r="3.0"/><circle cx="496.4" cy="301.3" r="3.0"/><circle cx="490.7" cy="301.9" r="3.0"/><circle cx="503.8" cy="291.6" r="3.0"/><circle cx="514.7" cy="292.1" r="3.0"/><circle cx="506.1" cy="300.7" r="3.0"/><circle cx="523.3" cy="299.0" r="3.0"/><circle cx="526.8" cy="292.7" r="3.0"/><circle cx="531.3" cy="293.3" r="3.0"/><circle cx="538.2" cy="292.1" r="3.0"/><circle cx="542.8" cy="295.0" r="3.0"/><circle cx="545.1" cy="291.6" r="3.0"/><circle cx="552.0" cy="291.6" r="3.0"/><circle cx="549.7" cy="296.7" r="3.0"/><circle cx="552.5" cy="299.0" r="3.0"/><circle cx="558.3" cy="301.3" r="3.0"/><circle cx="557.7" cy="303.6" r="3.0"/><circle cx="542.2" cy="300.2" r="3.0"/><circle cx="460.3" cy="309.9" r="3.0"/><circle cx="466.6" cy="309.3" r="3.0"/><circle cx="463.7" cy="312.8" r="3.0"/><circle cx="476.3" cy="312.2" r="3.0"/><circle cx="466.6" cy="317.4" r="3.0"/><circle cx="470.6" cy="319.1" r="3.0"/><circle cx="468.9" cy="321.4" r="3.0"/><circle cx="491.2" cy="308.2" r="3.0"/><circle cx="488.4" cy="312.8" r="3.0"/><circle cx="486.6" cy="315.6" r="3.0"/><circle cx="492.4" cy="315.6" r="3.0"/><circle cx="498.7" cy="304.8" r="3.0"/><circle cx="500.4" cy="309.3" r="3.0"/><circle cx="499.8" cy="315.1" r="3.0"/><circle cx="503.8" cy="317.4" r="3.0"/><circle cx="501.5" cy="321.4" r="3.0"/><circle cx="510.1" cy="304.2" r="3.0"/><circle cx="514.1" cy="303.0" r="3.0"/><circle cx="518.7" cy="303.0" r="3.0"/><circle cx="509.6" cy="308.2" r="3.0"/><circle cx="514.1" cy="309.3" r="3.0"/><circle cx="508.4" cy="313.3" r="3.0"/><circle cx="509.6" cy="318.5" r="3.0"/><circle cx="525.6" cy="302.5" r="3.0"/><circle cx="529.6" cy="305.3" r="3.0"/><circle cx="530.8" cy="310.5" r="3.0"/><circle cx="527.9" cy="314.5" r="3.0"/><circle cx="523.3" cy="316.8" r="3.0"/><circle cx="518.7" cy="312.8" r="3.0"/><circle cx="517.6" cy="318.5" r="3.0"/><circle cx="519.9" cy="321.4" r="3.0"/><circle cx="539.9" cy="307.0" r="3.0"/><circle cx="543.9" cy="305.3" r="3.0"/><circle cx="548.5" cy="302.5" r="3.0"/><circle cx="542.8" cy="311.1" r="3.0"/><circle cx="546.2" cy="315.6" r="3.0"/><circle cx="550.8" cy="308.8" r="3.0"/><circle cx="550.8" cy="313.3" r="3.0"/><circle cx="559.4" cy="309.3" r="3.0"/><circle cx="556.0" cy="319.1" r="3.0"/><circle cx="549.7" cy="321.4" r="3.0"/><circle cx="553.1" cy="322.5" r="3.0"/><circle cx="560.0" cy="324.2" r="3.0"/><circle cx="561.1" cy="327.7" r="3.0"/><circle cx="560.0" cy="334.5" r="3.0"/><circle cx="464.9" cy="325.9" r="3.0"/><circle cx="467.2" cy="328.8" r="3.0"/><circle cx="482.6" cy="325.4" r="3.0"/><circle cx="476.9" cy="327.1" r="3.0"/><circle cx="473.5" cy="331.1" r="3.0"/><circle cx="492.4" cy="321.9" r="3.0"/><circle cx="495.8" cy="324.8" r="3.0"/><circle cx="492.4" cy="328.2" r="3.0"/><circle cx="494.7" cy="330.5" r="3.0"/><circle cx="499.2" cy="331.7" r="3.0"/><circle cx="513.6" cy="328.2" r="3.0"/><circle cx="511.9" cy="332.2" r="3.0"/><circle cx="510.1" cy="334.5" r="3.0"/><circle cx="516.4" cy="336.8" r="3.0"/><circle cx="525.6" cy="324.8" r="3.0"/><circle cx="523.9" cy="328.8" r="3.0"/><circle cx="521.0" cy="331.1" r="3.0"/><circle cx="527.9" cy="330.0" r="3.0"/><circle cx="532.5" cy="328.8" r="3.0"/><circle cx="537.1" cy="324.2" r="3.0"/><circle cx="539.9" cy="325.4" r="3.0"/><circle cx="539.9" cy="330.0" r="3.0"/><circle cx="530.2" cy="336.5" r="3.0"/><circle cx="538.8" cy="335.7" r="3.0"/><circle cx="542.2" cy="338.0" r="3.0"/><circle cx="546.8" cy="339.1" r="3.0"/><circle cx="461.4" cy="334.5" r="3.0"/><circle cx="471.8" cy="336.3" r="3.0"/><circle cx="475.2" cy="335.1" r="3.0"/><circle cx="490.7" cy="336.3" r="3.0"/><circle cx="508.1" cy="340.6" r="3.0"/><circle cx="464.3" cy="341.4" r="3.0"/><circle cx="460.3" cy="342.6" r="3.0"/><circle cx="463.7" cy="345.4" r="3.0"/><circle cx="487.2" cy="342.0" r="3.0"/><circle cx="490.7" cy="343.7" r="3.0"/><circle cx="487.8" cy="348.3" r="3.0"/><circle cx="482.6" cy="346.0" r="3.0"/><circle cx="474.0" cy="347.7" r="3.0"/><circle cx="471.8" cy="350.6" r="3.0"/><circle cx="499.2" cy="346.0" r="3.0"/><circle cx="501.5" cy="350.0" r="3.0"/><circle cx="507.8" cy="350.0" r="3.0"/><circle cx="515.3" cy="346.0" r="3.0"/><circle cx="521.6" cy="344.9" r="3.0"/><circle cx="517.6" cy="348.9" r="3.0"/><circle cx="527.9" cy="344.9" r="3.0"/><circle cx="533.6" cy="344.3" r="3.0"/><circle cx="535.9" cy="342.0" r="3.0"/><circle cx="529.6" cy="348.9" r="3.0"/><circle cx="535.9" cy="347.7" r="3.0"/><circle cx="546.2" cy="343.7" r="3.0"/><circle cx="549.7" cy="345.4" r="3.0"/><circle cx="554.2" cy="346.0" r="3.0"/><circle cx="557.7" cy="344.9" r="3.0"/><circle cx="543.4" cy="350.6" r="3.0"/><circle cx="445.2" cy="322.1" r="3.0"/><circle cx="550.6" cy="290.8" r="3.0"/><circle cx="423.3" cy="337.1" r="3.0"/><circle cx="556.4" cy="344.7" r="3.0"/><circle cx="430.7" cy="347.4" r="3.0"/><circle cx="485.2" cy="314.0" r="3.0"/><circle cx="495.0" cy="241.4" r="3.0"/><circle cx="484.2" cy="242.2" r="3.0"/><circle cx="432.0" cy="340.7" r="3.0"/><circle cx="449.8" cy="327.3" r="3.0"/><circle cx="543.2" cy="302.8" r="3.0"/><circle cx="531.3" cy="304.3" r="3.0"/><circle cx="495.8" cy="236.7" r="3.0"/><circle cx="445.1" cy="251.0" r="3.0"/><circle cx="446.7" cy="311.2" r="3.0"/><circle cx="498.2" cy="276.6" r="3.0"/><circle cx="357.7" cy="277.0" r="3.0"/><circle cx="429.3" cy="259.0" r="3.0"/><circle cx="481.3" cy="289.3" r="3.0"/><circle cx="544.7" cy="309.3" r="3.0"/><circle cx="425.1" cy="246.7" r="3.0"/><circle cx="498.0" cy="314.0" r="3.0"/><circle cx="366.6" cy="306.9" r="3.0"/><circle cx="535.9" cy="346.3" r="3.0"/><circle cx="492.9" cy="329.2" r="3.0"/><circle cx="531.1" cy="313.0" r="3.0"/><circle cx="493.4" cy="324.8" r="3.0"/><circle cx="404.6" cy="281.4" r="3.0"/><circle cx="519.5" cy="318.6" r="3.0"/><circle cx="375.3" cy="235.5" r="3.0"/><circle cx="459.4" cy="339.3" r="3.0"/><circle cx="374.4" cy="249.0" r="3.0"/><circle cx="418.2" cy="249.6" r="3.0"/><circle cx="454.8" cy="235.5" r="3.0"/><circle cx="531.2" cy="345.4" r="3.0"/><circle cx="539.5" cy="251.6" r="3.0"/><circle cx="512.4" cy="304.6" r="3.0"/><circle cx="441.1" cy="231.3" r="3.0"/><circle cx="416.3" cy="332.3" r="3.0"/><circle cx="543.1" cy="275.6" r="3.0"/><circle cx="434.5" cy="319.6" r="3.0"/><circle cx="499.7" cy="306.6" r="3.0"/><circle cx="470.3" cy="249.6" r="3.0"/><circle cx="438.8" cy="346.1" r="3.0"/><circle cx="474.4" cy="254.9" r="3.0"/><circle cx="489.4" cy="270.6" r="3.0"/><circle cx="401.5" cy="346.4" r="3.0"/><circle cx="359.9" cy="243.9" r="3.0"/><circle cx="422.1" cy="265.2" r="3.0"/><circle cx="406.4" cy="329.1" r="3.0"/><circle cx="548.9" cy="262.0" r="3.0"/><circle cx="414.7" cy="312.1" r="3.0"/><circle cx="534.0" cy="293.7" r="3.0"/><circle cx="415.7" cy="263.3" r="3.0"/><circle cx="526.8" cy="257.2" r="3.0"/><circle cx="518.2" cy="274.5" r="3.0"/><circle cx="495.4" cy="250.8" r="3.0"/><circle cx="520.0" cy="348.2" r="3.0"/><circle cx="481.0" cy="271.2" r="3.0"/><circle cx="493.0" cy="323.2" r="3.0"/><circle cx="393.6" cy="256.4" r="3.0"/><circle cx="553.3" cy="300.7" r="3.0"/><circle cx="370.1" cy="268.3" r="3.0"/><circle cx="365.1" cy="311.9" r="3.0"/><circle cx="510.2" cy="302.1" r="3.0"/><circle cx="485.1" cy="268.1" r="3.0"/><circle cx="361.9" cy="303.4" r="3.0"/><circle cx="374.6" cy="254.4" r="3.0"/><circle cx="372.1" cy="241.7" r="3.0"/><circle cx="359.4" cy="234.8" r="3.0"/><circle cx="544.8" cy="238.7" r="3.0"/><circle cx="538.5" cy="230.1" r="3.0"/><circle cx="412.1" cy="246.7" r="3.0"/><circle cx="432.9" cy="331.3" r="3.0"/><circle cx="445.3" cy="293.9" r="3.0"/><circle cx="359.1" cy="310.5" r="3.0"/><circle cx="403.7" cy="320.8" r="3.0"/><circle cx="406.4" cy="257.3" r="3.0"/><circle cx="558.7" cy="299.5" r="3.0"/><circle cx="469.5" cy="248.2" r="3.0"/><circle cx="506.4" cy="270.4" r="3.0"/><circle cx="458.2" cy="288.3" r="3.0"/><circle cx="426.7" cy="251.5" r="3.0"/><circle cx="508.2" cy="284.5" r="3.0"/><circle cx="555.6" cy="273.6" r="3.0"/><circle cx="528.8" cy="331.7" r="3.0"/><circle cx="412.5" cy="312.3" r="3.0"/><circle cx="393.4" cy="273.2" r="3.0"/><circle cx="419.7" cy="268.1" r="3.0"/><circle cx="536.0" cy="256.1" r="3.0"/><circle cx="359.4" cy="259.5" r="3.0"/><circle cx="375.3" cy="232.8" r="3.0"/><circle cx="508.3" cy="334.2" r="3.0"/><circle cx="545.9" cy="341.3" r="3.0"/><circle cx="368.8" cy="336.4" r="3.0"/><circle cx="462.5" cy="231.7" r="3.0"/><circle cx="490.4" cy="244.6" r="3.0"/><circle cx="444.5" cy="320.4" r="3.0"/><circle cx="531.4" cy="346.5" r="3.0"/><circle cx="536.5" cy="335.3" r="3.0"/><circle cx="435.8" cy="272.4" r="3.0"/><circle cx="457.9" cy="309.9" r="3.0"/><circle cx="460.3" cy="294.9" r="3.0"/><circle cx="381.5" cy="267.2" r="3.0"/><circle cx="547.5" cy="336.9" r="3.0"/><circle cx="405.1" cy="320.4" r="3.0"/><circle cx="536.3" cy="232.2" r="3.0"/><circle cx="485.9" cy="314.3" r="3.0"/><circle cx="541.5" cy="324.5" r="3.0"/><circle cx="485.6" cy="342.3" r="3.0"/><circle cx="369.6" cy="244.4" r="3.0"/><circle cx="470.6" cy="320.1" r="3.0"/><circle cx="481.9" cy="347.6" r="3.0"/><circle cx="358.5" cy="306.2" r="3.0"/><circle cx="408.3" cy="343.3" r="3.0"/><circle cx="392.1" cy="315.9" r="3.0"/><circle cx="496.2" cy="279.6" r="3.0"/><circle cx="531.6" cy="278.3" r="3.0"/><circle cx="513.0" cy="308.3" r="3.0"/><circle cx="410.3" cy="242.3" r="3.0"/><circle cx="410.4" cy="348.2" r="3.0"/><circle cx="542.9" cy="302.3" r="3.0"/><circle cx="371.9" cy="263.0" r="3.0"/><circle cx="553.5" cy="241.1" r="3.0"/><circle cx="431.4" cy="268.9" r="3.0"/><circle cx="538.3" cy="305.3" r="3.0"/><circle cx="550.4" cy="322.0" r="3.0"/><circle cx="503.4" cy="273.6" r="3.0"/><circle cx="415.3" cy="290.0" r="3.0"/><circle cx="399.5" cy="315.3" r="3.0"/><circle cx="371.9" cy="284.0" r="3.0"/><circle cx="460.7" cy="241.4" r="3.0"/><circle cx="514.7" cy="332.2" r="3.0"/><circle cx="440.9" cy="241.2" r="3.0"/><circle cx="435.4" cy="242.1" r="3.0"/><circle cx="357.1" cy="266.7" r="3.0"/><circle cx="487.2" cy="270.4" r="3.0"/><circle cx="524.2" cy="278.6" r="3.0"/><circle cx="384.7" cy="269.5" r="3.0"/><circle cx="361.4" cy="241.1" r="3.0"/><circle cx="481.1" cy="280.2" r="3.0"/><circle cx="529.5" cy="346.3" r="3.0"/><circle cx="407.7" cy="343.8" r="3.0"/><circle cx="544.4" cy="290.0" r="3.0"/><circle cx="493.2" cy="251.5" r="3.0"/><circle cx="527.8" cy="325.3" r="3.0"/><circle cx="546.2" cy="302.2" r="3.0"/><circle cx="493.4" cy="329.6" r="3.0"/><circle cx="404.9" cy="320.6" r="3.0"/><circle cx="378.4" cy="333.8" r="3.0"/><circle cx="493.6" cy="316.5" r="3.0"/><circle cx="475.5" cy="330.5" r="3.0"/><circle cx="460.5" cy="340.6" r="3.0"/><circle cx="515.4" cy="276.4" r="3.0"/><circle cx="410.0" cy="256.4" r="3.0"/><circle cx="400.9" cy="280.8" r="3.0"/><circle cx="387.3" cy="258.5" r="3.0"/><circle cx="525.4" cy="315.2" r="3.0"/><circle cx="429.7" cy="334.9" r="3.0"/><circle cx="380.6" cy="275.0" r="3.0"/><circle cx="420.1" cy="293.0" r="3.0"/><circle cx="488.6" cy="345.9" r="3.0"/><circle cx="418.3" cy="254.7" r="3.0"/><circle cx="426.8" cy="303.8" r="3.0"/><circle cx="522.6" cy="302.4" r="3.0"/><circle cx="543.4" cy="264.5" r="3.0"/><circle cx="358.8" cy="258.6" r="3.0"/><circle cx="501.4" cy="285.4" r="3.0"/><circle cx="465.4" cy="245.5" r="3.0"/><circle cx="393.9" cy="321.4" r="3.0"/><circle cx="376.9" cy="336.5" r="3.0"/><circle cx="421.5" cy="243.6" r="3.0"/><circle cx="409.3" cy="350.8" r="3.0"/><circle cx="408.5" cy="231.6" r="3.0"/><circle cx="469.1" cy="321.0" r="3.0"/><circle cx="407.5" cy="247.2" r="3.0"/><circle cx="371.5" cy="241.3" r="3.0"/><circle cx="519.2" cy="260.9" r="3.0"/><circle cx="431.3" cy="262.4" r="3.0"/><circle cx="386.9" cy="277.3" r="3.0"/><circle cx="403.1" cy="290.2" r="3.0"/><circle cx="551.0" cy="310.4" r="3.0"/><circle cx="442.6" cy="291.9" r="3.0"/><circle cx="445.8" cy="345.3" r="3.0"/><circle cx="490.0" cy="275.1" r="3.0"/><circle cx="545.8" cy="257.8" r="3.0"/><circle cx="465.8" cy="342.5" r="3.0"/><circle cx="516.6" cy="261.0" r="3.0"/><circle cx="546.7" cy="345.3" r="3.0"/><circle cx="449.0" cy="232.9" r="3.0"/><circle cx="388.1" cy="323.3" r="3.0"/><circle cx="422.9" cy="341.4" r="3.0"/><circle cx="482.7" cy="257.9" r="3.0"/><circle cx="551.2" cy="267.3" r="3.0"/><circle cx="475.3" cy="327.4" r="3.0"/><circle cx="500.9" cy="281.2" r="3.0"/><circle cx="481.3" cy="289.1" r="3.0"/><circle cx="408.5" cy="334.5" r="3.0"/><circle cx="353.9" cy="274.8" r="3.0"/><circle cx="456.3" cy="335.8" r="3.0"/><circle cx="357.7" cy="262.1" r="3.0"/><circle cx="363.1" cy="240.4" r="3.0"/><circle cx="383.6" cy="292.9" r="3.0"/><circle cx="524.9" cy="299.5" r="3.0"/><circle cx="531.4" cy="230.4" r="3.0"/><circle cx="556.3" cy="244.6" r="3.0"/><circle cx="403.8" cy="313.7" r="3.0"/><circle cx="511.0" cy="307.7" r="3.0"/><circle cx="406.7" cy="230.1" r="3.0"/><circle cx="426.4" cy="256.4" r="3.0"/><circle cx="463.8" cy="347.7" r="3.0"/><circle cx="432.9" cy="322.7" r="3.0"/><circle cx="503.2" cy="260.5" r="3.0"/><circle cx="480.7" cy="262.9" r="3.0"/><circle cx="372.7" cy="255.2" r="3.0"/><circle cx="530.8" cy="329.3" r="3.0"/><circle cx="483.0" cy="238.3" r="3.0"/><circle cx="520.2" cy="304.5" r="3.0"/><circle cx="485.6" cy="249.5" r="3.0"/><circle cx="466.4" cy="319.7" r="3.0"/><circle cx="628.4" cy="81.1" r="3.0"/><circle cx="629.8" cy="86.0" r="3.0"/><circle cx="631.5" cy="91.8" r="3.0"/><circle cx="620.6" cy="86.0" r="3.0"/><circle cx="615.4" cy="88.9" r="3.0"/><circle cx="619.5" cy="92.3" r="3.0"/><circle cx="614.9" cy="96.3" r="3.0"/><circle cx="621.8" cy="96.3" r="3.0"/><circle cx="639.5" cy="81.4" r="3.0"/><circle cx="644.7" cy="80.3" r="3.0"/><circle cx="649.2" cy="79.7" r="3.0"/><circle cx="653.8" cy="82.6" r="3.0"/><circle cx="642.4" cy="86.6" r="3.0"/><circle cx="636.6" cy="88.9" r="3.0"/><circle cx="646.4" cy="90.6" r="3.0"/><circle cx="651.0" cy="92.3" r="3.0"/><circle cx="661.3" cy="82.0" r="3.0"/><circle cx="667.6" cy="79.7" r="3.0"/><circle cx="669.9" cy="84.3" r="3.0"/><circle cx="672.2" cy="87.2" r="3.0"/><circle cx="676.8" cy="89.5" r="3.0"/><circle cx="679.0" cy="82.0" r="3.0"/><circle cx="683.6" cy="83.7" r="3.0"/><circle cx="688.2" cy="79.2" r="3.0"/><circle cx="690.5" cy="83.7" r="3.0"/><circle cx="699.1" cy="86.6" r="3.0"/><circle cx="711.7" cy="86.6" r="3.0"/><circle cx="717.4" cy="82.6" r="3.0"/><circle cx="716.3" cy="92.3" r="3.0"/><circle cx="687.1" cy="92.3" r="3.0"/><circle cx="691.6" cy="91.8" r="3.0"/><circle cx="696.2" cy="91.2" r="3.0"/><circle cx="700.8" cy="95.8" r="3.0"/><circle cx="661.9" cy="94.1" r="3.0"/><circle cx="657.3" cy="97.5" r="3.0"/><circle cx="662.4" cy="98.6" r="3.0"/><circle cx="667.6" cy="96.9" r="3.0"/><circle cx="665.9" cy="92.9" r="3.0"/><circle cx="676.8" cy="96.3" r="3.0"/><circle cx="680.8" cy="96.9" r="3.0"/><circle cx="673.3" cy="102.1" r="3.0"/><circle cx="644.7" cy="98.6" r="3.0"/><circle cx="648.7" cy="101.5" r="3.0"/><circle cx="635.5" cy="101.5" r="3.0"/><circle cx="640.1" cy="102.6" r="3.0"/><circle cx="628.6" cy="99.2" r="3.0"/><circle cx="624.6" cy="102.6" r="3.0"/><circle cx="630.9" cy="104.4" r="3.0"/><circle cx="627.5" cy="107.2" r="3.0"/><circle cx="614.9" cy="104.9" r="3.0"/><circle cx="620.6" cy="108.4" r="3.0"/><circle cx="625.2" cy="111.8" r="3.0"/><circle cx="628.1" cy="114.7" r="3.0"/><circle cx="628.1" cy="118.1" r="3.0"/><circle cx="618.9" cy="115.8" r="3.0"/><circle cx="618.9" cy="120.4" r="3.0"/><circle cx="645.8" cy="105.5" r="3.0"/><circle cx="647.5" cy="110.1" r="3.0"/><circle cx="651.5" cy="108.4" r="3.0"/><circle cx="656.7" cy="107.2" r="3.0"/><circle cx="641.2" cy="110.7" r="3.0"/><circle cx="641.8" cy="114.7" r="3.0"/><circle cx="682.5" cy="102.6" r="3.0"/><circle cx="683.6" cy="107.8" r="3.0"/><circle cx="687.1" cy="108.4" r="3.0"/><circle cx="670.4" cy="110.7" r="3.0"/><circle cx="675.6" cy="111.8" r="3.0"/><circle cx="677.9" cy="114.7" r="3.0"/><circle cx="681.3" cy="111.8" r="3.0"/><circle cx="695.7" cy="104.4" r="3.0"/><circle cx="705.4" cy="100.9" r="3.0"/><circle cx="706.5" cy="105.5" r="3.0"/><circle cx="714.0" cy="98.6" r="3.0"/><circle cx="716.9" cy="103.2" r="3.0"/><circle cx="712.3" cy="107.2" r="3.0"/><circle cx="699.7" cy="110.7" r="3.0"/><circle cx="704.2" cy="111.8" r="3.0"/><circle cx="708.8" cy="113.0" r="3.0"/><circle cx="714.0" cy="111.8" r="3.0"/><circle cx="657.3" cy="113.0" r="3.0"/><circle cx="653.3" cy="117.5" r="3.0"/><circle cx="658.4" cy="117.0" r="3.0"/><circle cx="663.0" cy="118.1" r="3.0"/><circle cx="666.4" cy="117.0" r="3.0"/><circle cx="665.3" cy="122.1" r="3.0"/><circle cx="661.3" cy="125.0" r="3.0"/><circle cx="663.0" cy="127.9" r="3.0"/><circle cx="637.8" cy="118.1" r="3.0"/><circle cx="642.9" cy="118.7" r="3.0"/><circle cx="645.8" cy="121.0" r="3.0"/><circle cx="637.8" cy="122.1" r="3.0"/><circle cx="638.4" cy="126.7" r="3.0"/><circle cx="630.9" cy="126.1" r="3.0"/><circle cx="675.0" cy="121.0" r="3.0"/><circle cx="673.9" cy="125.6" r="3.0"/><circle cx="673.3" cy="130.1" r="3.0"/><circle cx="687.1" cy="114.7" r="3.0"/><circle cx="690.5" cy="118.1" r="3.0"/><circle cx="695.1" cy="116.4" r="3.0"/><circle cx="699.7" cy="117.0" r="3.0"/><circle cx="705.4" cy="119.3" r="3.0"/><circle cx="682.5" cy="123.3" r="3.0"/><circle cx="688.2" cy="123.3" r="3.0"/><circle cx="692.8" cy="122.7" r="3.0"/><circle cx="689.4" cy="128.4" r="3.0"/><circle cx="700.8" cy="124.4" r="3.0"/><circle cx="705.4" cy="126.7" r="3.0"/><circle cx="701.4" cy="130.1" r="3.0"/><circle cx="710.6" cy="122.1" r="3.0"/><circle cx="715.7" cy="119.8" r="3.0"/><circle cx="716.3" cy="125.6" r="3.0"/><circle cx="711.1" cy="129.0" r="3.0"/><circle cx="715.7" cy="131.3" r="3.0"/><circle cx="617.2" cy="128.4" r="3.0"/><circle cx="618.9" cy="133.0" r="3.0"/><circle cx="624.0" cy="132.4" r="3.0"/><circle cx="648.7" cy="129.6" r="3.0"/><circle cx="655.6" cy="133.0" r="3.0"/><circle cx="655.0" cy="137.6" r="3.0"/><circle cx="633.8" cy="134.2" r="3.0"/><circle cx="630.3" cy="137.0" r="3.0"/><circle cx="640.7" cy="137.6" r="3.0"/><circle cx="669.9" cy="135.9" r="3.0"/><circle cx="676.8" cy="134.7" r="3.0"/><circle cx="681.3" cy="133.6" r="3.0"/><circle cx="684.8" cy="136.4" r="3.0"/><circle cx="703.1" cy="134.7" r="3.0"/><circle cx="707.7" cy="136.4" r="3.0"/><circle cx="713.4" cy="135.9" r="3.0"/><circle cx="614.9" cy="138.7" r="3.0"/><circle cx="622.9" cy="139.3" r="3.0"/><circle cx="724.3" cy="82.0" r="3.0"/><circle cx="728.3" cy="80.3" r="3.0"/><circle cx="727.2" cy="87.8" r="3.0"/><circle cx="735.0" cy="78.9" r="3.0"/><circle cx="739.2" cy="81.4" r="3.0"/><circle cx="743.8" cy="83.7" r="3.0"/><circle cx="743.2" cy="87.2" r="3.0"/><circle cx="748.4" cy="79.7" r="3.0"/><circle cx="751.8" cy="82.6" r="3.0"/><circle cx="755.8" cy="79.2" r="3.0"/><circle cx="759.8" cy="82.6" r="3.0"/><circle cx="763.8" cy="86.0" r="3.0"/><circle cx="733.5" cy="88.9" r="3.0"/><circle cx="734.6" cy="91.8" r="3.0"/><circle cx="768.4" cy="80.3" r="3.0"/><circle cx="773.8" cy="78.9" r="3.0"/><circle cx="772.8" cy="86.0" r="3.0"/><circle cx="767.3" cy="91.8" r="3.0"/><circle cx="762.7" cy="95.8" r="3.0"/><circle cx="781.6" cy="80.9" r="3.0"/><circle cx="785.6" cy="82.6" r="3.0"/><circle cx="786.8" cy="87.2" r="3.0"/><circle cx="778.7" cy="90.0" r="3.0"/><circle cx="783.3" cy="91.2" r="3.0"/><circle cx="777.6" cy="95.2" r="3.0"/><circle cx="781.6" cy="94.6" r="3.0"/><circle cx="787.9" cy="92.3" r="3.0"/><circle cx="792.5" cy="94.1" r="3.0"/><circle cx="796.5" cy="98.1" r="3.0"/><circle cx="799.6" cy="79.5" r="3.0"/><circle cx="806.0" cy="79.5" r="3.0"/><circle cx="797.6" cy="85.5" r="3.0"/><circle cx="802.2" cy="84.3" r="3.0"/><circle cx="798.2" cy="88.9" r="3.0"/><circle cx="808.5" cy="83.7" r="3.0"/><circle cx="806.8" cy="88.9" r="3.0"/><circle cx="813.1" cy="87.8" r="3.0"/><circle cx="816.5" cy="83.7" r="3.0"/><circle cx="806.2" cy="94.1" r="3.0"/><circle cx="817.7" cy="93.5" r="3.0"/><circle cx="815.4" cy="96.9" r="3.0"/><circle cx="822.3" cy="98.6" r="3.0"/><circle cx="719.7" cy="92.9" r="3.0"/><circle cx="723.7" cy="96.9" r="3.0"/><circle cx="720.3" cy="100.4" r="3.0"/><circle cx="730.0" cy="99.8" r="3.0"/><circle cx="731.8" cy="103.8" r="3.0"/><circle cx="743.8" cy="92.9" r="3.0"/><circle cx="740.3" cy="97.5" r="3.0"/><circle cx="744.9" cy="98.6" r="3.0"/><circle cx="736.9" cy="97.5" r="3.0"/><circle cx="753.5" cy="98.3" r="3.0"/><circle cx="757.0" cy="102.6" r="3.0"/><circle cx="771.9" cy="100.9" r="3.0"/><circle cx="775.3" cy="100.4" r="3.0"/><circle cx="787.9" cy="100.4" r="3.0"/><circle cx="789.0" cy="104.4" r="3.0"/><circle cx="800.5" cy="102.6" r="3.0"/><circle cx="803.4" cy="106.7" r="3.0"/><circle cx="810.8" cy="101.5" r="3.0"/><circle cx="808.5" cy="104.9" r="3.0"/><circle cx="814.8" cy="107.8" r="3.0"/><circle cx="739.2" cy="104.9" r="3.0"/><circle cx="748.4" cy="104.9" r="3.0"/><circle cx="747.8" cy="108.9" r="3.0"/><circle cx="762.7" cy="106.7" r="3.0"/><circle cx="759.2" cy="110.1" r="3.0"/><circle cx="755.8" cy="108.4" r="3.0"/><circle cx="720.3" cy="107.8" r="3.0"/><circle cx="725.4" cy="110.7" r="3.0"/><circle cx="721.4" cy="115.2" r="3.0"/><circle cx="731.8" cy="108.9" r="3.0"/><circle cx="730.6" cy="114.1" r="3.0"/><circle cx="735.2" cy="113.0" r="3.0"/><circle cx="743.2" cy="113.0" r="3.0"/><circle cx="748.9" cy="113.0" r="3.0"/><circle cx="752.4" cy="111.8" r="3.0"/><circle cx="767.3" cy="110.7" r="3.0"/><circle cx="771.9" cy="108.9" r="3.0"/><circle cx="775.3" cy="114.1" r="3.0"/><circle cx="773.0" cy="110.7" r="3.0"/><circle cx="763.8" cy="114.7" r="3.0"/><circle cx="761.5" cy="119.3" r="3.0"/><circle cx="759.2" cy="124.4" r="3.0"/><circle cx="780.4" cy="107.8" r="3.0"/><circle cx="783.9" cy="111.2" r="3.0"/><circle cx="786.8" cy="114.1" r="3.0"/><circle cx="790.2" cy="114.1" r="3.0"/><circle cx="783.3" cy="118.1" r="3.0"/><circle cx="782.7" cy="122.7" r="3.0"/><circle cx="795.9" cy="111.2" r="3.0"/><circle cx="800.5" cy="108.9" r="3.0"/><circle cx="798.2" cy="115.2" r="3.0"/><circle cx="797.1" cy="119.3" r="3.0"/><circle cx="806.8" cy="114.1" r="3.0"/><circle cx="818.3" cy="115.2" r="3.0"/><circle cx="813.1" cy="118.7" r="3.0"/><circle cx="817.7" cy="121.0" r="3.0"/><circle cx="821.1" cy="120.4" r="3.0"/><circle cx="817.7" cy="124.4" r="3.0"/><circle cx="725.4" cy="121.6" r="3.0"/><circle cx="736.3" cy="118.7" r="3.0"/><circle cx="738.6" cy="123.3" r="3.0"/><circle cx="742.6" cy="127.3" r="3.0"/><circle cx="744.9" cy="119.8" r="3.0"/><circle cx="751.2" cy="125.8" r="3.0"/><circle cx="755.8" cy="130.1" r="3.0"/><circle cx="766.1" cy="121.0" r="3.0"/><circle cx="767.3" cy="125.0" r="3.0"/><circle cx="773.0" cy="118.7" r="3.0"/><circle cx="776.4" cy="118.1" r="3.0"/><circle cx="773.6" cy="123.3" r="3.0"/><circle cx="793.1" cy="122.7" r="3.0"/><circle cx="798.2" cy="124.4" r="3.0"/><circle cx="802.2" cy="123.3" r="3.0"/><circle cx="797.1" cy="127.3" r="3.0"/><circle cx="807.4" cy="125.0" r="3.0"/><circle cx="793.6" cy="132.4" r="3.0"/><circle cx="772.4" cy="130.1" r="3.0"/><circle cx="767.8" cy="133.0" r="3.0"/><circle cx="781.0" cy="134.2" r="3.0"/><circle cx="786.8" cy="133.6" r="3.0"/><circle cx="783.9" cy="137.6" r="3.0"/><circle cx="774.1" cy="137.0" r="3.0"/><circle cx="754.1" cy="136.4" r="3.0"/><circle cx="738.6" cy="132.4" r="3.0"/><circle cx="734.0" cy="136.4" r="3.0"/><circle cx="731.8" cy="138.7" r="3.0"/><circle cx="720.9" cy="134.2" r="3.0"/><circle cx="807.9" cy="134.2" r="3.0"/><circle cx="817.7" cy="131.9" r="3.0"/><circle cx="818.8" cy="135.3" r="3.0"/><circle cx="814.8" cy="137.6" r="3.0"/><circle cx="790.8" cy="138.2" r="3.0"/><circle cx="616.0" cy="141.1" r="3.0"/><circle cx="627.5" cy="143.4" r="3.0"/><circle cx="621.8" cy="148.0" r="3.0"/><circle cx="625.8" cy="147.4" r="3.0"/><circle cx="635.5" cy="144.0" r="3.0"/><circle cx="634.9" cy="148.0" r="3.0"/><circle cx="640.7" cy="140.6" r="3.0"/><circle cx="648.1" cy="141.7" r="3.0"/><circle cx="656.1" cy="142.3" r="3.0"/><circle cx="659.6" cy="145.7" r="3.0"/><circle cx="658.4" cy="150.3" r="3.0"/><circle cx="659.0" cy="154.3" r="3.0"/><circle cx="660.7" cy="157.8" r="3.0"/><circle cx="670.4" cy="143.4" r="3.0"/><circle cx="675.6" cy="145.2" r="3.0"/><circle cx="681.3" cy="144.0" r="3.0"/><circle cx="687.1" cy="141.1" r="3.0"/><circle cx="690.5" cy="144.6" r="3.0"/><circle cx="679.0" cy="149.7" r="3.0"/><circle cx="684.2" cy="148.0" r="3.0"/><circle cx="688.2" cy="150.9" r="3.0"/><circle cx="695.1" cy="141.7" r="3.0"/><circle cx="699.7" cy="143.4" r="3.0"/><circle cx="693.4" cy="149.2" r="3.0"/><circle cx="699.7" cy="149.7" r="3.0"/><circle cx="692.8" cy="154.9" r="3.0"/><circle cx="696.8" cy="158.9" r="3.0"/><circle cx="707.7" cy="144.6" r="3.0"/><circle cx="713.4" cy="141.7" r="3.0"/><circle cx="714.0" cy="148.6" r="3.0"/><circle cx="707.1" cy="151.5" r="3.0"/><circle cx="704.2" cy="154.9" r="3.0"/><circle cx="711.1" cy="156.0" r="3.0"/><circle cx="716.9" cy="153.8" r="3.0"/><circle cx="716.9" cy="159.5" r="3.0"/><circle cx="706.5" cy="162.9" r="3.0"/><circle cx="711.7" cy="166.9" r="3.0"/><circle cx="713.4" cy="170.9" r="3.0"/><circle cx="714.0" cy="175.5" r="3.0"/><circle cx="717.4" cy="172.7" r="3.0"/><circle cx="644.7" cy="148.6" r="3.0"/><circle cx="648.7" cy="152.0" r="3.0"/><circle cx="652.7" cy="156.0" r="3.0"/><circle cx="647.5" cy="158.9" r="3.0"/><circle cx="639.5" cy="153.8" r="3.0"/><circle cx="635.5" cy="157.8" r="3.0"/><circle cx="632.1" cy="162.9" r="3.0"/><circle cx="630.9" cy="165.8" r="3.0"/><circle cx="650.4" cy="164.6" r="3.0"/><circle cx="622.3" cy="154.3" r="3.0"/><circle cx="616.0" cy="155.5" r="3.0"/><circle cx="616.0" cy="160.6" r="3.0"/><circle cx="621.8" cy="162.9" r="3.0"/><circle cx="615.4" cy="166.4" r="3.0"/><circle cx="614.9" cy="170.9" r="3.0"/><circle cx="621.8" cy="169.8" r="3.0"/><circle cx="625.2" cy="170.9" r="3.0"/><circle cx="614.3" cy="174.9" r="3.0"/><circle cx="674.5" cy="158.3" r="3.0"/><circle cx="680.2" cy="157.2" r="3.0"/><circle cx="683.6" cy="159.5" r="3.0"/><circle cx="673.3" cy="162.3" r="3.0"/><circle cx="677.9" cy="164.6" r="3.0"/><circle cx="680.8" cy="168.1" r="3.0"/><circle cx="690.5" cy="163.5" r="3.0"/><circle cx="687.6" cy="166.9" r="3.0"/><circle cx="693.9" cy="169.2" r="3.0"/><circle cx="664.1" cy="164.1" r="3.0"/><circle cx="667.6" cy="166.4" r="3.0"/><circle cx="661.3" cy="168.1" r="3.0"/><circle cx="657.3" cy="170.4" r="3.0"/><circle cx="657.3" cy="173.8" r="3.0"/><circle cx="639.5" cy="168.1" r="3.0"/><circle cx="637.2" cy="172.1" r="3.0"/><circle cx="634.4" cy="174.9" r="3.0"/><circle cx="640.1" cy="177.2" r="3.0"/><circle cx="628.6" cy="176.1" r="3.0"/><circle cx="632.6" cy="179.5" r="3.0"/><circle cx="649.0" cy="174.9" r="3.0"/><circle cx="654.4" cy="177.8" r="3.0"/><circle cx="651.5" cy="181.8" r="3.0"/><circle cx="647.0" cy="183.5" r="3.0"/><circle cx="650.4" cy="187.6" r="3.0"/><circle cx="667.0" cy="176.1" r="3.0"/><circle cx="670.4" cy="179.5" r="3.0"/><circle cx="671.0" cy="183.5" r="3.0"/><circle cx="676.8" cy="174.4" r="3.0"/><circle cx="680.2" cy="172.1" r="3.0"/><circle cx="684.8" cy="174.4" r="3.0"/><circle cx="686.5" cy="176.7" r="3.0"/><circle cx="702.5" cy="170.9" r="3.0"/><circle cx="701.4" cy="174.9" r="3.0"/><circle cx="679.6" cy="180.7" r="3.0"/><circle cx="681.3" cy="185.8" r="3.0"/><circle cx="691.1" cy="180.7" r="3.0"/><circle cx="695.7" cy="179.5" r="3.0"/><circle cx="695.7" cy="184.1" r="3.0"/><circle cx="695.7" cy="188.7" r="3.0"/><circle cx="700.8" cy="191.0" r="3.0"/><circle cx="614.9" cy="181.2" r="3.0"/><circle cx="618.9" cy="181.8" r="3.0"/><circle cx="623.5" cy="181.2" r="3.0"/><circle cx="617.2" cy="185.3" r="3.0"/><circle cx="622.3" cy="187.0" r="3.0"/><circle cx="625.8" cy="188.7" r="3.0"/><circle cx="614.9" cy="192.1" r="3.0"/><circle cx="619.5" cy="192.7" r="3.0"/><circle cx="620.0" cy="196.1" r="3.0"/><circle cx="624.0" cy="196.1" r="3.0"/><circle cx="634.9" cy="184.1" r="3.0"/><circle cx="636.6" cy="187.0" r="3.0"/><circle cx="633.2" cy="189.3" r="3.0"/><circle cx="640.7" cy="189.3" r="3.0"/><circle cx="643.5" cy="188.1" r="3.0"/><circle cx="634.4" cy="193.9" r="3.0"/><circle cx="638.4" cy="193.9" r="3.0"/><circle cx="637.2" cy="197.9" r="3.0"/><circle cx="642.4" cy="195.0" r="3.0"/><circle cx="647.0" cy="196.7" r="3.0"/><circle cx="652.1" cy="195.6" r="3.0"/><circle cx="656.1" cy="193.3" r="3.0"/><circle cx="658.4" cy="186.4" r="3.0"/><circle cx="661.9" cy="188.7" r="3.0"/><circle cx="665.9" cy="187.6" r="3.0"/><circle cx="660.1" cy="191.0" r="3.0"/><circle cx="662.4" cy="199.0" r="3.0"/><circle cx="673.3" cy="190.4" r="3.0"/><circle cx="675.6" cy="193.9" r="3.0"/><circle cx="676.8" cy="196.7" r="3.0"/><circle cx="690.3" cy="198.4" r="3.0"/><circle cx="717.4" cy="196.1" r="3.0"/><circle cx="740.9" cy="141.7" r="3.0"/><circle cx="746.1" cy="142.9" r="3.0"/><circle cx="743.2" cy="146.9" r="3.0"/><circle cx="727.7" cy="148.0" r="3.0"/><circle cx="724.3" cy="151.5" r="3.0"/><circle cx="725.4" cy="155.5" r="3.0"/><circle cx="730.6" cy="157.2" r="3.0"/><circle cx="732.9" cy="153.2" r="3.0"/><circle cx="737.5" cy="148.6" r="3.0"/><circle cx="739.2" cy="151.5" r="3.0"/><circle cx="751.2" cy="146.3" r="3.0"/><circle cx="755.8" cy="144.6" r="3.0"/><circle cx="758.7" cy="146.3" r="3.0"/><circle cx="753.5" cy="151.5" r="3.0"/><circle cx="748.9" cy="153.8" r="3.0"/><circle cx="748.4" cy="157.2" r="3.0"/><circle cx="754.1" cy="157.2" r="3.0"/><circle cx="767.3" cy="148.0" r="3.0"/><circle cx="771.3" cy="142.9" r="3.0"/><circle cx="773.6" cy="147.4" r="3.0"/><circle cx="762.7" cy="153.2" r="3.0"/><circle cx="767.3" cy="155.5" r="3.0"/><circle cx="761.0" cy="158.9" r="3.0"/><circle cx="760.4" cy="164.6" r="3.0"/><circle cx="782.2" cy="141.1" r="3.0"/><circle cx="786.8" cy="141.1" r="3.0"/><circle cx="792.5" cy="141.1" r="3.0"/><circle cx="783.9" cy="145.7" r="3.0"/><circle cx="782.7" cy="149.7" r="3.0"/><circle cx="799.9" cy="141.1" r="3.0"/><circle cx="806.2" cy="141.1" r="3.0"/><circle cx="817.7" cy="141.1" r="3.0"/><circle cx="813.1" cy="144.0" r="3.0"/><circle cx="810.2" cy="148.0" r="3.0"/><circle cx="800.3" cy="147.1" r="3.0"/><circle cx="777.6" cy="152.6" r="3.0"/><circle cx="774.1" cy="157.2" r="3.0"/><circle cx="779.3" cy="157.2" r="3.0"/><circle cx="779.9" cy="162.3" r="3.0"/><circle cx="777.6" cy="165.2" r="3.0"/><circle cx="793.1" cy="152.6" r="3.0"/><circle cx="798.2" cy="154.3" r="3.0"/><circle cx="789.6" cy="158.3" r="3.0"/><circle cx="793.6" cy="161.8" r="3.0"/><circle cx="797.1" cy="159.5" r="3.0"/><circle cx="805.7" cy="154.9" r="3.0"/><circle cx="811.4" cy="154.9" r="3.0"/><circle cx="816.0" cy="157.2" r="3.0"/><circle cx="803.4" cy="160.1" r="3.0"/><circle cx="808.5" cy="160.6" r="3.0"/><circle cx="813.1" cy="163.5" r="3.0"/><circle cx="800.5" cy="164.6" r="3.0"/><circle cx="805.1" cy="165.8" r="3.0"/><circle cx="809.7" cy="168.1" r="3.0"/><circle cx="817.1" cy="170.0" r="3.0"/><circle cx="718.6" cy="157.2" r="3.0"/><circle cx="727.7" cy="164.1" r="3.0"/><circle cx="732.9" cy="162.9" r="3.0"/><circle cx="738.6" cy="161.8" r="3.0"/><circle cx="743.8" cy="164.6" r="3.0"/><circle cx="748.4" cy="165.2" r="3.0"/><circle cx="737.5" cy="166.9" r="3.0"/><circle cx="742.6" cy="170.4" r="3.0"/><circle cx="747.2" cy="169.2" r="3.0"/><circle cx="751.2" cy="168.6" r="3.0"/><circle cx="766.7" cy="162.9" r="3.0"/><circle cx="769.6" cy="166.9" r="3.0"/><circle cx="768.4" cy="170.9" r="3.0"/><circle cx="774.1" cy="170.9" r="3.0"/><circle cx="778.2" cy="173.8" r="3.0"/><circle cx="773.0" cy="174.9" r="3.0"/><circle cx="784.5" cy="167.5" r="3.0"/><circle cx="787.9" cy="166.9" r="3.0"/><circle cx="793.1" cy="168.6" r="3.0"/><circle cx="795.9" cy="172.7" r="3.0"/><circle cx="802.2" cy="172.7" r="3.0"/><circle cx="798.2" cy="176.7" r="3.0"/><circle cx="799.9" cy="180.1" r="3.0"/><circle cx="806.8" cy="179.5" r="3.0"/><circle cx="786.8" cy="176.1" r="3.0"/><circle cx="783.3" cy="181.2" r="3.0"/><circle cx="789.6" cy="183.0" r="3.0"/><circle cx="771.9" cy="180.7" r="3.0"/><circle cx="766.7" cy="176.7" r="3.0"/><circle cx="760.4" cy="173.8" r="3.0"/><circle cx="757.0" cy="176.1" r="3.0"/><circle cx="732.9" cy="171.5" r="3.0"/><circle cx="736.3" cy="173.8" r="3.0"/><circle cx="725.4" cy="170.9" r="3.0"/><circle cx="722.0" cy="173.2" r="3.0"/><circle cx="719.7" cy="172.1" r="3.0"/><circle cx="730.0" cy="177.8" r="3.0"/><circle cx="735.2" cy="180.7" r="3.0"/><circle cx="732.3" cy="184.1" r="3.0"/><circle cx="742.6" cy="183.0" r="3.0"/><circle cx="746.6" cy="179.0" r="3.0"/><circle cx="750.7" cy="177.8" r="3.0"/><circle cx="752.4" cy="181.8" r="3.0"/><circle cx="748.4" cy="187.0" r="3.0"/><circle cx="754.7" cy="184.1" r="3.0"/><circle cx="759.2" cy="184.7" r="3.0"/><circle cx="761.5" cy="186.4" r="3.0"/><circle cx="722.0" cy="184.1" r="3.0"/><circle cx="724.9" cy="188.1" r="3.0"/><circle cx="729.5" cy="187.0" r="3.0"/><circle cx="741.5" cy="189.8" r="3.0"/><circle cx="736.9" cy="192.7" r="3.0"/><circle cx="729.5" cy="193.9" r="3.0"/><circle cx="726.0" cy="197.3" r="3.0"/><circle cx="722.0" cy="195.0" r="3.0"/><circle cx="726.0" cy="199.6" r="3.0"/><circle cx="719.1" cy="193.9" r="3.0"/><circle cx="755.2" cy="192.1" r="3.0"/><circle cx="757.5" cy="195.6" r="3.0"/><circle cx="755.8" cy="199.0" r="3.0"/><circle cx="767.8" cy="192.1" r="3.0"/><circle cx="773.0" cy="189.3" r="3.0"/><circle cx="777.6" cy="187.0" r="3.0"/><circle cx="781.6" cy="188.7" r="3.0"/><circle cx="777.6" cy="190.4" r="3.0"/><circle cx="777.0" cy="196.7" r="3.0"/><circle cx="793.6" cy="187.0" r="3.0"/><circle cx="792.5" cy="192.1" r="3.0"/><circle cx="786.2" cy="196.7" r="3.0"/><circle cx="783.3" cy="199.6" r="3.0"/><circle cx="790.8" cy="199.0" r="3.0"/><circle cx="802.2" cy="188.1" r="3.0"/><circle cx="809.7" cy="191.0" r="3.0"/><circle cx="806.2" cy="195.6" r="3.0"/><circle cx="807.9" cy="199.0" r="3.0"/><circle cx="813.1" cy="195.6" r="3.0"/><circle cx="816.5" cy="192.1" r="3.0"/><circle cx="820.6" cy="192.7" r="3.0"/><circle cx="635.8" cy="170.9" r="3.0"/><circle cx="749.9" cy="156.3" r="3.0"/><circle cx="648.8" cy="183.7" r="3.0"/><circle cx="815.1" cy="192.6" r="3.0"/><circle cx="644.4" cy="189.9" r="3.0"/><circle cx="772.7" cy="156.5" r="3.0"/><circle cx="731.6" cy="91.0" r="3.0"/><circle cx="754.2" cy="82.3" r="3.0"/><circle cx="637.5" cy="191.7" r="3.0"/><circle cx="687.4" cy="177.8" r="3.0"/><circle cx="754.1" cy="169.0" r="3.0"/><circle cx="717.7" cy="154.4" r="3.0"/><circle cx="758.2" cy="79.5" r="3.0"/><circle cx="697.1" cy="111.0" r="3.0"/><circle cx="660.0" cy="170.8" r="3.0"/><circle cx="800.2" cy="116.3" r="3.0"/><circle cx="700.6" cy="121.6" r="3.0"/><circle cx="716.6" cy="100.7" r="3.0"/><circle cx="744.0" cy="144.1" r="3.0"/><circle cx="766.9" cy="172.9" r="3.0"/><circle cx="668.1" cy="91.3" r="3.0"/><circle cx="791.3" cy="163.1" r="3.0"/><circle cx="714.9" cy="140.0" r="3.0"/><circle cx="804.8" cy="194.2" r="3.0"/><circle cx="723.4" cy="169.8" r="3.0"/><circle cx="735.0" cy="164.1" r="3.0"/><circle cx="801.0" cy="176.5" r="3.0"/><circle cx="618.6" cy="131.0" r="3.0"/><circle cx="737.3" cy="164.6" r="3.0"/><circle cx="646.7" cy="80.7" r="3.0"/><circle cx="662.4" cy="192.3" r="3.0"/><circle cx="630.4" cy="115.1" r="3.0"/><circle cx="625.7" cy="107.4" r="3.0"/><circle cx="656.6" cy="95.4" r="3.0"/><circle cx="791.5" cy="185.1" r="3.0"/><circle cx="744.9" cy="100.1" r="3.0"/><circle cx="810.6" cy="157.3" r="3.0"/><circle cx="692.1" cy="93.4" r="3.0"/><circle cx="653.6" cy="180.5" r="3.0"/><circle cx="770.9" cy="124.3" r="3.0"/><circle cx="676.7" cy="166.8" r="3.0"/><circle cx="780.5" cy="164.3" r="3.0"/><circle cx="787.7" cy="84.5" r="3.0"/><circle cx="648.4" cy="195.3" r="3.0"/><circle cx="718.6" cy="99.4" r="3.0"/><circle cx="788.2" cy="115.8" r="3.0"/><circle cx="625.5" cy="193.8" r="3.0"/><circle cx="619.9" cy="83.2" r="3.0"/><circle cx="677.6" cy="116.3" r="3.0"/><circle cx="626.9" cy="176.7" r="3.0"/><circle cx="752.8" cy="113.8" r="3.0"/><circle cx="712.4" cy="174.0" r="3.0"/><circle cx="750.1" cy="148.8" r="3.0"/><circle cx="677.7" cy="111.6" r="3.0"/><circle cx="809.8" cy="105.6" r="3.0"/><circle cx="818.7" cy="123.4" r="3.0"/><circle cx="719.1" cy="90.7" r="3.0"/><circle cx="780.6" cy="191.2" r="3.0"/><circle cx="765.4" cy="114.9" r="3.0"/><circle cx="753.3" cy="184.5" r="3.0"/><circle cx="652.4" cy="106.8" r="3.0"/><circle cx="774.5" cy="148.6" r="3.0"/><circle cx="661.5" cy="116.6" r="3.0"/><circle cx="715.2" cy="152.0" r="3.0"/><circle cx="778.6" cy="149.9" r="3.0"/><circle cx="760.9" cy="117.7" r="3.0"/><circle cx="693.4" cy="142.0" r="3.0"/><circle cx="649.7" cy="110.2" r="3.0"/><circle cx="642.0" cy="85.0" r="3.0"/><circle cx="629.5" cy="88.0" r="3.0"/><circle cx="805.3" cy="78.9" r="3.0"/><circle cx="794.5" cy="96.3" r="3.0"/><circle cx="638.0" cy="104.3" r="3.0"/><circle cx="671.7" cy="178.7" r="3.0"/><circle cx="689.4" cy="140.1" r="3.0"/><circle cx="708.6" cy="153.0" r="3.0"/><circle cx="630.1" cy="160.9" r="3.0"/><circle cx="639.6" cy="112.3" r="3.0"/><circle cx="780.7" cy="88.2" r="3.0"/><circle cx="732.6" cy="113.4" r="3.0"/><circle cx="792.6" cy="131.0" r="3.0"/><circle cx="680.9" cy="109.1" r="3.0"/><circle cx="816.1" cy="119.0" r="3.0"/><circle cx="802.9" cy="126.0" r="3.0"/><circle cx="725.0" cy="172.9" r="3.0"/><circle cx="714.8" cy="172.0" r="3.0"/><circle cx="636.6" cy="120.7" r="3.0"/><circle cx="700.9" cy="115.4" r="3.0"/><circle cx="777.1" cy="101.4" r="3.0"/><circle cx="711.5" cy="111.0" r="3.0"/><circle cx="638.1" cy="81.6" r="3.0"/><circle cx="793.6" cy="167.2" r="3.0"/><circle cx="808.5" cy="197.4" r="3.0"/><circle cx="617.5" cy="184.1" r="3.0"/><circle cx="740.2" cy="82.7" r="3.0"/><circle cx="757.3" cy="82.3" r="3.0"/><circle cx="658.6" cy="168.3" r="3.0"/><circle cx="811.7" cy="190.3" r="3.0"/><circle cx="774.5" cy="174.5" r="3.0"/><circle cx="695.5" cy="118.6" r="3.0"/><circle cx="748.3" cy="156.2" r="3.0"/><circle cx="686.8" cy="149.2" r="3.0"/><circle cx="664.3" cy="125.9" r="3.0"/><circle cx="745.9" cy="180.8" r="3.0"/><circle cx="623.9" cy="152.0" r="3.0"/><circle cx="800.3" cy="82.2" r="3.0"/><circle cx="788.9" cy="140.7" r="3.0"/><circle cx="703.9" cy="118.5" r="3.0"/><circle cx="614.2" cy="174.5" r="3.0"/><circle cx="614.2" cy="180.4" r="3.0"/><circle cx="660.6" cy="186.0" r="3.0"/><circle cx="810.9" cy="145.6" r="3.0"/><circle cx="788.2" cy="113.3" r="3.0"/><circle cx="715.7" cy="124.2" r="3.0"/><circle cx="678.8" cy="167.6" r="3.0"/><circle cx="678.4" cy="193.1" r="3.0"/><circle cx="653.0" cy="119.7" r="3.0"/><circle cx="713.7" cy="108.7" r="3.0"/><circle cx="734.0" cy="168.9" r="3.0"/><circle cx="614.2" cy="166.6" r="3.0"/><circle cx="801.4" cy="111.2" r="3.0"/><circle cx="767.6" cy="120.3" r="3.0"/><circle cx="798.5" cy="152.9" r="3.0"/><circle cx="636.1" cy="103.2" r="3.0"/><circle cx="645.6" cy="88.8" r="3.0"/><circle cx="752.1" cy="153.3" r="3.0"/><circle cx="660.4" cy="118.5" r="3.0"/><circle cx="810.1" cy="85.3" r="3.0"/><circle cx="690.5" cy="119.8" r="3.0"/><circle cx="755.5" cy="195.2" r="3.0"/><circle cx="781.3" cy="151.2" r="3.0"/><circle cx="795.4" cy="119.0" r="3.0"/><circle cx="685.5" cy="138.8" r="3.0"/><circle cx="646.1" cy="157.2" r="3.0"/><circle cx="712.0" cy="120.2" r="3.0"/><circle cx="735.7" cy="90.4" r="3.0"/><circle cx="787.7" cy="164.2" r="3.0"/><circle cx="664.0" cy="97.5" r="3.0"/><circle cx="643.5" cy="101.3" r="3.0"/><circle cx="696.3" cy="182.5" r="3.0"/><circle cx="785.1" cy="110.2" r="3.0"/><circle cx="736.5" cy="121.2" r="3.0"/><circle cx="637.7" cy="123.7" r="3.0"/><circle cx="616.5" cy="87.1" r="3.0"/><circle cx="796.3" cy="109.7" r="3.0"/><circle cx="775.5" cy="191.8" r="3.0"/><circle cx="720.9" cy="194.0" r="3.0"/><circle cx="731.7" cy="150.6" r="3.0"/><circle cx="816.9" cy="96.6" r="3.0"/><circle cx="793.3" cy="172.6" r="3.0"/><circle cx="736.1" cy="161.7" r="3.0"/><circle cx="778.7" cy="175.2" r="3.0"/><circle cx="651.5" cy="188.5" r="3.0"/><circle cx="781.8" cy="145.0" r="3.0"/><circle cx="694.2" cy="188.0" r="3.0"/><circle cx="725.6" cy="189.7" r="3.0"/><circle cx="822.5" cy="117.9" r="3.0"/><circle cx="683.9" cy="102.0" r="3.0"/><circle cx="718.4" cy="132.4" r="3.0"/><circle cx="658.7" cy="125.6" r="3.0"/><circle cx="656.3" cy="175.7" r="3.0"/><circle cx="671.8" cy="125.4" r="3.0"/><circle cx="639.5" cy="139.7" r="3.0"/><circle cx="725.2" cy="197.0" r="3.0"/><circle cx="684.5" cy="109.7" r="3.0"/><circle cx="658.9" cy="152.3" r="3.0"/><circle cx="806.2" cy="156.5" r="3.0"/><circle cx="747.5" cy="112.8" r="3.0"/><circle cx="710.9" cy="111.3" r="3.0"/><circle cx="783.1" cy="134.9" r="3.0"/><circle cx="784.2" cy="81.1" r="3.0"/><circle cx="646.9" cy="150.7" r="3.0"/><circle cx="682.9" cy="171.8" r="3.0"/><circle cx="667.4" cy="99.8" r="3.0"/><circle cx="760.9" cy="156.3" r="3.0"/><circle cx="673.0" cy="85.3" r="3.0"/><circle cx="764.9" cy="151.5" r="3.0"/><circle cx="627.7" cy="96.7" r="3.0"/><circle cx="636.8" cy="86.9" r="3.0"/><circle cx="747.5" cy="107.5" r="3.0"/><circle cx="685.9" cy="116.5" r="3.0"/><circle cx="644.9" cy="118.8" r="3.0"/><circle cx="776.0" cy="185.1" r="3.0"/><circle cx="627.8" cy="146.3" r="3.0"/><circle cx="658.6" cy="144.1" r="3.0"/><circle cx="782.1" cy="116.2" r="3.0"/><circle cx="755.0" cy="102.2" r="3.0"/><circle cx="666.6" cy="164.1" r="3.0"/><circle cx="758.5" cy="107.6" r="3.0"/><circle cx="738.9" cy="148.4" r="3.0"/><circle cx="659.9" cy="92.3" r="3.0"/><circle cx="721.9" cy="197.0" r="3.0"/><circle cx="634.8" cy="189.8" r="3.0"/><circle cx="739.2" cy="98.6" r="3.0"/><circle cx="767.3" cy="113.5" r="3.0"/><circle cx="816.2" cy="114.6" r="3.0"/></g>
<g class="pts-no" fill="#f9473a"><circle cx="408.8" cy="93.0" r="3.0"/><circle cx="442.2" cy="88.8" r="3.0"/><circle cx="437.0" cy="101.2" r="3.0"/><circle cx="441.0" cy="100.8" r="3.0"/><circle cx="507.2" cy="87.0" r="3.0"/><circle cx="513.2" cy="89.5" r="3.0"/><circle cx="525.2" cy="90.0" r="3.0"/><circle cx="539.8" cy="93.8" r="3.0"/><circle cx="467.0" cy="115.5" r="3.0"/><circle cx="478.2" cy="125.2" r="3.0"/><circle cx="368.0" cy="127.5" r="3.0"/><circle cx="401.2" cy="124.8" r="3.0"/><circle cx="417.8" cy="127.8" r="3.0"/><circle cx="420.5" cy="132.2" r="3.0"/><circle cx="506.8" cy="134.5" r="3.0"/><circle cx="551.0" cy="128.0" r="3.0"/><circle cx="457.8" cy="139.2" r="3.0"/><circle cx="407.5" cy="142.8" r="3.0"/><circle cx="484.0" cy="149.8" r="3.0"/><circle cx="371.0" cy="153.8" r="3.0"/><circle cx="401.5" cy="152.8" r="3.0"/><circle cx="499.2" cy="161.0" r="3.0"/><circle cx="511.0" cy="161.0" r="3.0"/><circle cx="381.8" cy="164.5" r="3.0"/><circle cx="425.5" cy="165.2" r="3.0"/><circle cx="487.8" cy="165.8" r="3.0"/><circle cx="491.0" cy="165.0" r="3.0"/><circle cx="362.2" cy="173.2" r="3.0"/><circle cx="507.0" cy="170.8" r="3.0"/><circle cx="485.8" cy="176.2" r="3.0"/><circle cx="532.5" cy="176.0" r="3.0"/><circle cx="537.8" cy="178.0" r="3.0"/><circle cx="497.8" cy="182.0" r="3.0"/><circle cx="439.0" cy="183.5" r="3.0"/><circle cx="396.8" cy="190.5" r="3.0"/><circle cx="419.0" cy="191.5" r="3.0"/><circle cx="398.2" cy="195.5" r="3.0"/><circle cx="441.0" cy="194.2" r="3.0"/><circle cx="371.8" cy="198.8" r="3.0"/><circle cx="646.8" cy="230.5" r="3.0"/><circle cx="652.2" cy="240.2" r="3.0"/><circle cx="657.0" cy="253.0" r="3.0"/><circle cx="664.8" cy="251.0" r="3.0"/><circle cx="676.5" cy="253.5" r="3.0"/><circle cx="652.8" cy="260.2" r="3.0"/><circle cx="690.8" cy="255.2" r="3.0"/><circle cx="703.0" cy="256.0" r="3.0"/><circle cx="707.0" cy="244.2" r="3.0"/><circle cx="724.8" cy="238.2" r="3.0"/><circle cx="736.2" cy="243.2" r="3.0"/><circle cx="735.8" cy="248.5" r="3.0"/><circle cx="745.5" cy="244.5" r="3.0"/><circle cx="757.2" cy="241.8" r="3.0"/><circle cx="757.8" cy="248.5" r="3.0"/><circle cx="774.5" cy="243.0" r="3.0"/><circle cx="783.2" cy="251.2" r="3.0"/><circle cx="806.0" cy="233.5" r="3.0"/><circle cx="820.5" cy="238.0" r="3.0"/><circle cx="798.0" cy="258.5" r="3.0"/><circle cx="710.0" cy="265.2" r="3.0"/><circle cx="735.0" cy="262.5" r="3.0"/><circle cx="783.5" cy="263.0" r="3.0"/><circle cx="794.0" cy="266.0" r="3.0"/><circle cx="774.8" cy="267.2" r="3.0"/><circle cx="680.8" cy="268.0" r="3.0"/><circle cx="680.0" cy="271.0" r="3.0"/><circle cx="684.2" cy="276.8" r="3.0"/><circle cx="651.0" cy="280.0" r="3.0"/><circle cx="766.8" cy="276.8" r="3.0"/><circle cx="743.5" cy="282.0" r="3.0"/><circle cx="796.8" cy="281.5" r="3.0"/><circle cx="819.8" cy="280.8" r="3.0"/><circle cx="718.0" cy="290.5" r="3.0"/><circle cx="760.8" cy="288.8" r="3.0"/><circle cx="762.2" cy="291.2" r="3.0"/><circle cx="648.0" cy="296.0" r="3.0"/><circle cx="645.2" cy="298.2" r="3.0"/><circle cx="675.0" cy="294.2" r="3.0"/><circle cx="696.8" cy="296.0" r="3.0"/><circle cx="773.5" cy="295.5" r="3.0"/><circle cx="792.8" cy="294.0" r="3.0"/><circle cx="790.0" cy="302.2" r="3.0"/><circle cx="804.5" cy="306.8" r="3.0"/><circle cx="666.8" cy="305.8" r="3.0"/><circle cx="732.8" cy="305.0" r="3.0"/><circle cx="740.0" cy="304.8" r="3.0"/><circle cx="673.0" cy="312.2" r="3.0"/><circle cx="731.2" cy="313.5" r="3.0"/><circle cx="625.8" cy="313.5" r="3.0"/><circle cx="641.8" cy="324.8" r="3.0"/><circle cx="649.2" cy="325.0" r="3.0"/><circle cx="647.8" cy="330.5" r="3.0"/><circle cx="664.8" cy="326.0" r="3.0"/><circle cx="698.8" cy="331.0" r="3.0"/><circle cx="730.8" cy="324.8" r="3.0"/><circle cx="751.2" cy="324.0" r="3.0"/><circle cx="776.2" cy="324.5" r="3.0"/><circle cx="806.0" cy="331.8" r="3.0"/><circle cx="808.5" cy="333.0" r="3.0"/><circle cx="724.5" cy="334.8" r="3.0"/><circle cx="716.2" cy="337.8" r="3.0"/><circle cx="722.2" cy="339.0" r="3.0"/><circle cx="746.8" cy="336.8" r="3.0"/><circle cx="636.2" cy="341.2" r="3.0"/><circle cx="641.2" cy="344.5" r="3.0"/><circle cx="626.0" cy="343.5" r="3.0"/><circle cx="618.8" cy="345.0" r="3.0"/><circle cx="774.0" cy="349.0" r="3.0"/><circle cx="809.0" cy="346.5" r="3.0"/><circle cx="514.8" cy="398.2" r="3.0"/><circle cx="552.5" cy="409.2" r="3.0"/><circle cx="463.5" cy="435.5" r="3.0"/><circle cx="457.8" cy="441.8" r="3.0"/><circle cx="471.5" cy="442.8" r="3.0"/><circle cx="521.5" cy="448.5" r="3.0"/><circle cx="355.5" cy="465.2" r="3.0"/><circle cx="379.2" cy="466.2" r="3.0"/><circle cx="393.8" cy="468.2" r="3.0"/><circle cx="407.0" cy="465.5" r="3.0"/><circle cx="386.0" cy="474.5" r="3.0"/><circle cx="504.8" cy="466.5" r="3.0"/><circle cx="552.8" cy="473.5" r="3.0"/><circle cx="539.5" cy="491.5" r="3.0"/><circle cx="468.0" cy="498.0" r="3.0"/><circle cx="148.5" cy="285.4" r="3.0"/><circle cx="197.6" cy="290.5" r="3.0"/></g>
<rect x="42.00" y="48.80" width="832.00" height="483.45" fill="none" stroke="#333" stroke-width="0.9" stroke-linejoin="round"/>
<g stroke="#333" stroke-width="1.3">
<line x1="38.10" x2="42.00" y1="441.75" y2="441.75"/>
<line x1="197.65" x2="197.65" y1="532.25" y2="536.25"/>
<line x1="38.10" x2="42.00" y1="290.55" y2="290.55"/>
<line x1="458.00" x2="458.00" y1="532.25" y2="536.25"/>
<line x1="38.10" x2="42.00" y1="139.35" y2="139.35"/>
<line x1="718.35" x2="718.35" y1="532.25" y2="536.25"/>
</g>
<g class="axis-text" fill="#4d4d4d" font-size="11.73">
<text x="34.6" y="445.50" text-anchor="end">0</text>
<text x="197.25" y="548.3" text-anchor="middle">0</text>
<text x="34.6" y="294.30" text-anchor="end">1</text>
<text x="457.60" y="548.3" text-anchor="middle">1</text>
<text x="34.6" y="143.10" text-anchor="end">2</text>
<text x="717.95" y="548.3" text-anchor="middle">2</text>
</g>
<text x="41.0" y="20.2" font-size="17.6" fill="#000">Performance on 10% unseen data - Feed Forward Neural Network</text>
<text x="41.1" y="38.3" font-size="13.2" fill="#000">Accuracy = 94.8%</text>
<text x="458" y="565.4" font-size="14.67" text-anchor="middle" fill="#000">Measured (Real class, as predicted by netMHCpan-4.0)</text>
<text transform="translate(17.6,290.3) rotate(-90)" font-size="14.74" text-anchor="middle" fill="#000">Predicted (Class assigned by Keras/TensorFlow deep FFN)</text>
<text x="897.1" y="270.1" font-size="14.67" fill="#000">Correct</text>
<circle cx="908.6" cy="286.9" r="3.0" fill="#f9473a"/>
<circle cx="908.6" cy="310.0" r="3.0" fill="#517fe6"/>
<text x="922.9" y="291.9" font-size="11.73" fill="#000">No</text>
<text x="922.9" y="314.9" font-size="11.73" fill="#000">Yes</text>
</svg>
</body></html>
